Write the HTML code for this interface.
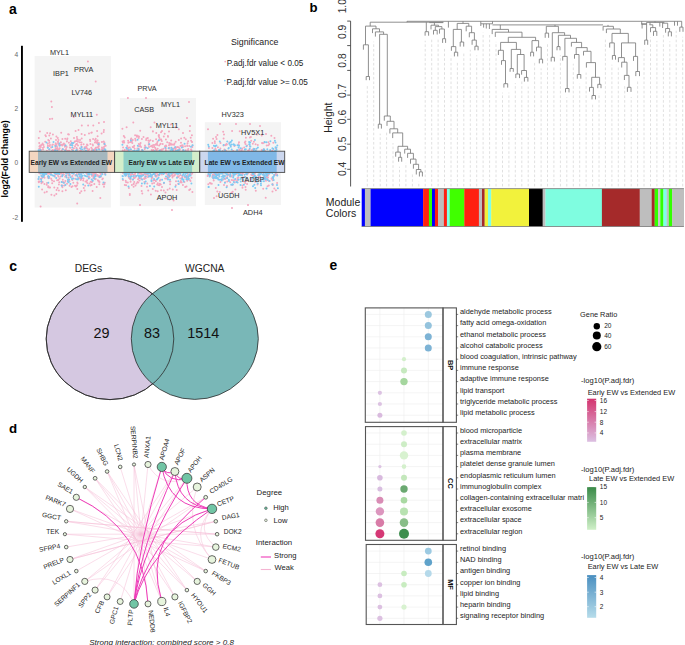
<!DOCTYPE html><html><head><meta charset="utf-8"><style>html,body{margin:0;padding:0;background:#fff;width:685px;height:645px;overflow:hidden;font-family:"Liberation Sans",sans-serif}svg{display:block}</style></head><body>
<svg width="685" height="645" viewBox="0 0 685 645">
<rect width="685" height="645" fill="#fff"/>
<g font-family="Liberation Sans, sans-serif" font-weight="bold" fill="#000">
<text x="9" y="14" font-size="14">a</text>
<text x="309.5" y="11.6" font-size="13.2">b</text>
<text x="9.3" y="270.5" font-size="14">c</text>
<text x="9.0" y="432.7" font-size="13.3">d</text>
<text x="329.6" y="270.2" font-size="13.8">e</text>
</g>
<g id="pa">
<rect x="34.6" y="56" width="76.3" height="151.5" fill="#f4f4f4"/>
<rect x="119.9" y="98" width="76.1" height="108.2" fill="#f4f4f4"/>
<rect x="204.8" y="122.2" width="76.2" height="82.8" fill="#f4f4f4"/>
<path d="M95.9 149.5h0M60.7 176.5h0M49.4 142.8h0M88.1 125.6h0M103.9 129.9h0M92.6 191h0M68.1 150.8h0M52.5 150.1h0M40.8 149.8h0M72.5 186.2h0M70 145.1h0M88.9 176.4h0M67.7 169.4h0M54 181.2h0M98.3 176.2h0M84.7 190.5h0M69.4 150.7h0M67 173.1h0M87 169.4h0M69.5 181.3h0M66.3 175.9h0M83 172.4h0M64.9 151.1h0M75.4 153.7h0M91.7 174.6h0M77.6 170h0M87.3 183h0M74 137.9h0M103 149.7h0M90.4 143.9h0M105.4 145.7h0M65.7 151.1h0M67 150.9h0M56.5 144.2h0M88.9 177.2h0M93 152.9h0M52.9 150.8h0M81.6 133.9h0M76.7 143.9h0M81.9 171.7h0M94 150.3h0M47 183.1h0M62.6 170.6h0M55.7 143.3h0M51.1 152.6h0M55.2 145.2h0M71.1 143.4h0M63.1 182h0M96.6 142.7h0M91.8 132.5h0M95 171.1h0M103.2 169.5h0M55.5 149.1h0M91.3 147.8h0M48.9 171.1h0M99.1 176h0M91.6 185.1h0M95.5 141.9h0M85.6 170h0M98.5 181.5h0M56.5 145.8h0M42.5 144.1h0M48.3 140.1h0M97.2 154.1h0M95.7 138.7h0M95.7 147.8h0M67 183.7h0M81.8 146.9h0M80 178.6h0M105.3 173.6h0M71.5 187h0M81 150.4h0M97.1 140.6h0M90.9 152h0M68.1 134.2h0M58.4 176.4h0M66 171.2h0M104.8 182.7h0M92.4 150.3h0M78.4 178.1h0M91.8 150.2h0M75.6 131h0M58.9 144.8h0M79.9 193.1h0M92.2 181.4h0M81.1 179.5h0M79 173.3h0M69.6 185.7h0M45.4 135.2h0M100.7 173.9h0M63.6 172.7h0M56 140h0M67.2 139.5h0M102 147.4h0M77.1 139.1h0M77.6 183.4h0M68.9 142.7h0M102.3 179.2h0M70.8 141.2h0M52.9 144.5h0M39.6 151.9h0M104.2 149h0M97.6 136.3h0M55 171.4h0M51.2 151.5h0M96.7 187.1h0M44.2 172.6h0M101.9 142.1h0M104.1 171.3h0M82.7 169.5h0M43.9 153.4h0M97 147.5h0M42.6 143.4h0M84.5 148.7h0M92.7 144.4h0M66.9 141.6h0M92 172.5h0M58.4 139.9h0M104.7 174.1h0M79.7 178.4h0M95 173.7h0M98.9 143h0M85.1 185.7h0M57.8 141.7h0M56.4 136.4h0M98.8 143.4h0M95.2 179.3h0M57.1 180.3h0M93.4 178.3h0M44.3 174.8h0M92.7 154.2h0M54.4 195.6h0M84.6 151.9h0M89.6 177.7h0M69.8 147.5h0M54.3 187.6h0M99.5 182.1h0M78.6 152.5h0M51.6 151h0M76.9 144h0M73.7 116.9h0M63.9 143.5h0M81.5 177.9h0M62 182.1h0M39.9 131.5h0M71.6 170.7h0M56.3 193.9h0M90.7 181.7h0M104 146.9h0M50.8 152.4h0M42 178h0M102.9 178.5h0M42.9 173.9h0M103.7 150.8h0M76.9 185.6h0M65.2 149.7h0M49.4 177.4h0M41.1 153.8h0M62.4 187.2h0M41.7 181.6h0M86.8 173.2h0M48.3 169.7h0M102.4 173.9h0M90 139.8h0M60.5 145h0M50 145.1h0M48.2 187.3h0M51.8 152.8h0M101.6 133.4h0M98.9 145.1h0M68.9 134.6h0M81.2 144.8h0M61.6 185.2h0M48.2 152h0M42.4 175.3h0M97.7 152.2h0M66.5 151.4h0M61.2 132.7h0M71.9 149.7h0M105 151h0M99.4 172.5h0M58 141.7h0M52.2 118.7h0M45.1 152h0M99.4 152.8h0M105 144.9h0M93.4 153.8h0M95.1 169.9h0M51.1 147.5h0M77.4 150.1h0M50.7 171.2h0M43.9 147h0M79.9 153.1h0M80.1 177h0M93.7 170.6h0M88.3 150.2h0M87.6 150.4h0M95.7 178.9h0M72 143.3h0M97.8 147.3h0M51.2 173.9h0M63.7 174.4h0M38.8 182.2h0M46.7 173.9h0M94 177.1h0M64.4 185.5h0M42.7 182.1h0M73.4 173.1h0M75 146.3h0M50.9 152.6h0M55.5 174.4h0M86 153.3h0M39.7 181.6h0M86.3 147.9h0M97.6 174.9h0M72.1 171h0M57.5 149.1h0M78.7 172.8h0M48.5 169.5h0M94.7 176.2h0M64.9 146.8h0M65.4 181.1h0M91.3 153.6h0M68.1 179.6h0M93.2 178.1h0M42.1 189.5h0M103.6 169.4h0M81.5 142.4h0M74.6 142h0M39.9 148.7h0M104.4 184.2h0M93.5 175.6h0M98.7 148.6h0M84.6 147.3h0M75.4 175.6h0M73.9 148.3h0M103.2 148.7h0M46.7 184.8h0M103.5 170.8h0M74.8 141.6h0M46.9 151.1h0M58.1 143.1h0M44.5 177.7h0M77.3 182.5h0M52.2 183.2h0M80.2 150.8h0M59.6 151.8h0M64.6 182.7h0M39.3 148.8h0M76.4 147.9h0M57.9 174.9h0M49.3 135.5h0M97.7 143.8h0M68.4 173.6h0M45.9 136.3h0M49 149.5h0M62.5 185.8h0M94.3 184.1h0M88.7 170.1h0M91.9 182.2h0M100.7 153.5h0M90.6 170.1h0M72.4 180h0M91.8 174.5h0M79.8 142.3h0M87.7 150.5h0M65.1 176.8h0M92 176h0M72.5 150.4h0M48.4 178.2h0M78 145.4h0M95.9 174.2h0M103.7 131.9h0M39.2 143.1h0M76.9 137.1h0M75.1 178.7h0M73.7 173.8h0M62.8 179.7h0M62.4 175.5h0M45.2 141.8h0M65.8 190.2h0M104.1 143.8h0M68.4 179.8h0M74.5 169.6h0M50.1 133.2h0M73.4 151.4h0M99.3 184.2h0M98.9 123.1h0M49.1 140.8h0M51.3 153.3h0M81.3 191.2h0M81.8 125.4h0M66.5 175.4h0M38.8 138h0M95.8 173.1h0M72.4 175.9h0M56.6 190.1h0M66.5 146.6h0M49.2 173.4h0M50.1 172.6h0M94.5 170.8h0M39.3 173.2h0M60.5 173.6h0M56.6 148.7h0M100 176.6h0M64.7 144.2h0M99.1 181.2h0M80.7 151.2h0M41.5 175.4h0M99.6 177.2h0M59.2 182.2h0M103.1 150.9h0M65 171.1h0M98 144.6h0M92.4 149.3h0M51.2 178.8h0M58.3 179.9h0M64.7 145h0M43 149.4h0M55.2 144.9h0M57.8 137.9h0M61.7 150.6h0M86.5 151.6h0M47.2 132.9h0M95.4 175.1h0M87.6 145.3h0M103.7 141.4h0M54 150.2h0M47.4 171h0M78.5 130h0M55.2 174.7h0M46.8 191.7h0M75.4 152.7h0M83.2 180.4h0M59.6 148.2h0M96.4 150.6h0M83.6 144.3h0M72.5 150.2h0M43 153.4h0M87.2 148.4h0M65.9 173h0M97.1 131h0M57.3 147.1h0M62.4 139.1h0M83.3 169.6h0M62.4 191.3h0M50.9 138.5h0M87 144.6h0M41.2 151.2h0M64.4 145.1h0M59.6 178.6h0M77.3 189h0M55.8 150h0M38.6 179h0M91.3 132.8h0M79.8 148.3h0M55.1 152.2h0M100.7 176.9h0M44.4 184.1h0M94.9 142.6h0M44.6 192.6h0M85.5 181.4h0M94.9 173h0M86 153.1h0M73.3 182.7h0M41.5 183.2h0M93.3 125.6h0M81.9 178h0M55.5 146.9h0M52.2 145.1h0M47.8 173.4h0M54.9 176.7h0M68.8 175.1h0M98.7 146.6h0M76.8 148.5h0M90.2 141.1h0M83.8 188.1h0M95 149.6h0M58.2 153.2h0M57.6 150.4h0M86.2 146.6h0M70.4 147.7h0M49.9 119h0M89.5 151.8h0M87.3 174.4h0M71.7 152.1h0M51.4 194.8h0M82.3 170.7h0M102.1 169.4h0M47.9 145.7h0M91.2 171.4h0M81.9 176.3h0M101.5 149.6h0M89 133.4h0M51 174h0M76 144.4h0M95 140.1h0M81.2 173.1h0M86.5 181.8h0M72.5 149.7h0M58.9 184.5h0M49.6 145.9h0M104.4 142.4h0M51.5 172.4h0M38.7 181.6h0M67.4 138.5h0M83.5 178.4h0M68.3 174.3h0M94.7 174.2h0M68.6 177.5h0M62.2 145.6h0M69.8 174.5h0M100.3 198h0M80.7 174h0M42.6 176.7h0M77.3 175.4h0M71.2 172.5h0M98.7 144.3h0M51.3 173.9h0M83.4 152.7h0M78 139.9h0M65.5 151.5h0M50.8 174.6h0M97.1 152.6h0M45 169.5h0M76.2 141.1h0M77.4 139.2h0M44 153h0M43.5 144.9h0M87.1 180.2h0M46.3 170.3h0M95 149.1h0M50.1 187.4h0M47.8 176.9h0M42.4 152.9h0M78.9 152.8h0M58.9 190.6h0M80.7 180h0M76.8 174.1h0M89.2 149.2h0M90.4 172h0M63.9 174.5h0M103 184.2h0M45.3 173.5h0M93.1 139.1h0M55.8 146.6h0M68.9 174.2h0M39.9 151.5h0M92.9 145.4h0M85.2 151.1h0M48.3 186.2h0M93.5 173.5h0M39.4 146.4h0M97.9 180.2h0M40.9 147.1h0M65.2 138.7h0M49.3 187.4h0M80 139.9h0M60.9 142.3h0M41.5 144.9h0M63 144.3h0M62.6 149h0M77.9 141.8h0M105.6 152.6h0M48.4 170.6h0M72.5 145.3h0M77.2 203.4h0M40.8 178.8h0M90.9 171.8h0M81.7 138.4h0M57.6 188h0M84.8 135h0M90.4 185.4h0M62.3 170.3h0M66.1 149h0M105.7 145.7h0M63.5 153.2h0M47.7 143.8h0M97.7 140.4h0M59.1 149.3h0M43 147.7h0M76 186.4h0M61.7 173.4h0M50.7 171.7h0M105.6 152.4h0M97.5 142.4h0M71.4 170.8h0M40.1 145.6h0M56.7 171.6h0M52.1 180.6h0M97.3 175.4h0M104 186.8h0M43.9 176.7h0M47.8 146.9h0M75 185.7h0M52.9 134.5h0M89.5 183.5h0M61.5 144.7h0M66.7 147.1h0M72.1 176.7h0M153.3 144.9h0M155.4 173.6h0M161.4 151.2h0M162 186.9h0M190.2 189.3h0M159.3 137.7h0M134.3 170.4h0M141 173.7h0M154.8 179.9h0M144.7 148.9h0M169 131.5h0M156.3 133h0M123.1 171.8h0M155.5 169.6h0M160.2 139.5h0M168.2 154.1h0M179 170.6h0M148.2 190.6h0M135.1 135.3h0M128.1 140.8h0M124.8 149.8h0M175.1 174.8h0M188.5 153.5h0M189.2 152.7h0M155.9 181.3h0M192.2 173.4h0M137.6 182h0M154.5 122.6h0M145 145.4h0M123.9 140.9h0M133.7 184.1h0M140.5 154.2h0M161.9 174.6h0M130.8 175.5h0M132.8 140.1h0M184.8 152.3h0M138.8 144.1h0M151.1 175.4h0M169 177.6h0M188.7 152h0M125.9 171h0M142.7 153h0M190.5 181h0M182.1 175.7h0M168.4 175.4h0M168.7 174.8h0M178.8 176.2h0M127.7 171h0M162.5 151.3h0M139 146.5h0M159.2 185.3h0M166.3 146.3h0M169.7 181.6h0M170.1 170.1h0M167.9 135.9h0M138.7 149.4h0M189.8 131h0M185.8 139.3h0M174.1 144.7h0M131.3 138.5h0M137.5 148.5h0M150.9 152.9h0M127.8 182.6h0M147.4 174.4h0M153.1 152.2h0M170 154h0M148.4 171.5h0M167.6 189.8h0M172 175.5h0M143.5 136.9h0M180.2 182.3h0M163.8 136.4h0M123.4 170.7h0M127.2 145.7h0M134.5 177.2h0M141 169.6h0M191.9 135.2h0M190.7 137.7h0M145.9 174.2h0M156.1 144.1h0M126.2 151.8h0M166.3 173.4h0M140.8 170.7h0M157 144.5h0M187.8 175.3h0M171.1 152.3h0M172.8 148.6h0M128.9 187.9h0M135.8 175.7h0M138.6 136.2h0M169.1 173.9h0M163.4 148.8h0M167 153.6h0M159.9 180.7h0M124.5 171h0M167.4 178.2h0M165.6 172h0M169 145.3h0M133.4 151.5h0M172.8 189.4h0M178.3 147.3h0M126.2 185.2h0M128.6 148.1h0M188 169.9h0M154.9 144.9h0M159.1 145.5h0M172.8 170.2h0M127.2 149.2h0M156.4 150.5h0M144.7 147.6h0M172.5 177.5h0M187.7 177.8h0M165.9 139.5h0M141.9 150h0M191.5 177.7h0M166 145.5h0M127.1 170.9h0M128.3 142.8h0M128.9 177.8h0M176.4 151.4h0M129.8 147.4h0M181 142.8h0M134.5 178.1h0M131 149.8h0M190.8 153.2h0M185.2 187.1h0M155.6 176.4h0M155.1 174.8h0M174 144.8h0M129.8 194.9h0M146.2 153.8h0M192.1 142.1h0M182.5 145.9h0M146.4 138.5h0M151.8 178.6h0M123 180.1h0M165.1 178.5h0M182.1 172.2h0M141.1 147.1h0M149 147.1h0M138.3 182.4h0M184.9 177.5h0M139.5 180.4h0M173.6 200.5h0M179.6 148.3h0M181.5 145.5h0M160.3 150h0M181.8 178.3h0M184.3 137.7h0M170 176.1h0M125.7 180.7h0M146.2 172.9h0M177.4 171.6h0M139.9 144.6h0M145.4 152h0M127.3 146.8h0M174.5 143.6h0M178.9 171.9h0M144.1 179h0M185.7 176.8h0M144.3 173.9h0M163.7 171.6h0M158.9 135h0M169.2 143.1h0M147.8 138.1h0M131.1 173.6h0M124.8 185h0M152.6 147.2h0M159.2 171.8h0M138 179.2h0M178.8 129.2h0M152.9 131.6h0M172.3 172.1h0M145.5 178.1h0M135.5 185.4h0M132.4 169.4h0M192.8 171.3h0M186.5 176h0M175.8 185.2h0M136.9 135.5h0M157.7 191.2h0M158.3 185.1h0M161.8 141h0M152.2 183.6h0M140.6 142.9h0M155.3 148h0M122.7 150.5h0M139 136.7h0M158.7 135.6h0M136.5 183.5h0M173.1 173.4h0M141.5 185.9h0M187.5 143.3h0M128.4 150.2h0M178.5 176.9h0M167.3 178.7h0M146 169.6h0M133.7 147.1h0M165.9 150.3h0M128.3 147.8h0M144.6 174.4h0M153.3 180.6h0M156.6 176.4h0M164 153h0M134.2 145.7h0M150.7 127.3h0M152.3 150.3h0M133 179.4h0M162.7 144h0M147.3 183.5h0M187.2 146h0M161.4 173.1h0M174.1 175.7h0M182.3 177.5h0M163.9 183.3h0M161 132.3h0M135.2 138.7h0M124.2 142.6h0M156.1 139.2h0M147 186.7h0M187.8 179h0M149.6 170.8h0M177.7 146.9h0M147.9 177.1h0M160.3 144.3h0M133.6 186.8h0M123.8 136h0M132.7 147.1h0M126.4 152.4h0M186.5 186.5h0M161.1 190.2h0M152.9 141.1h0M175 173h0M183.8 172.5h0M164.4 172.9h0M131.1 153.4h0M172.2 174.2h0M135.1 173.5h0M169.7 188.6h0M152.9 131.2h0M140.2 130.8h0M134.6 148.7h0M133 153.9h0M159.7 173.1h0M124.7 150.6h0M154.1 183h0M164.7 133.7h0M182.9 185.1h0M161.8 149.4h0M171 144.8h0M178.8 170.5h0M178.6 154.1h0M169.5 170.9h0M190 180.3h0M187.8 173.6h0M141.3 179h0M178.2 183.7h0M170.8 124.4h0M175.7 149.4h0M182.8 150.2h0M141.7 191h0M175.7 141.8h0M176 181.3h0M152.4 177.3h0M128.5 176.3h0M130.3 174.6h0M153.4 170.1h0M168 136.8h0M157.1 172.8h0M141.9 138.9h0M187.2 180.8h0M162.6 169.5h0M175.8 147.1h0M189.3 146h0M130.7 179.4h0M126.1 182.2h0M160.4 179.8h0M148.8 143h0M179.8 149.7h0M182.3 170h0M124.7 137.4h0M173.7 150.9h0M188.1 141.3h0M130.8 139.2h0M157.6 141.4h0M155.7 190.7h0M139.9 173.6h0M165.5 192.5h0M176.7 190.1h0M153.6 149.9h0M186.7 176.8h0M138.7 138h0M180.3 175h0M170.5 172.3h0M150.9 146.3h0M157.1 145h0M148.2 170.4h0M133.7 183.7h0M148.2 175.3h0M163.4 170h0M149.4 170.4h0M136.7 151.8h0M142.3 193.6h0M170.6 144.1h0M189.2 190.1h0M169.5 148.5h0M164.9 146.3h0M190.9 152.7h0M123 172.9h0M130.6 181.7h0M169.5 199.5h0M170.1 184.3h0M122.4 128.7h0M144.4 182h0M122.9 142.4h0M180.4 146h0M136.6 151.8h0M188 149.9h0M184.4 181.9h0M150.9 194.5h0M127 174.6h0M174.9 153.6h0M132.7 140.2h0M192.4 192.1h0M166.2 178.6h0M161.2 139.5h0M185.8 150.3h0M132.8 174.3h0M178.8 140.1h0M161.8 154h0M160.6 143.7h0M139 173.4h0M139.4 169.6h0M156 149.5h0M146 172.1h0M181.1 138.4h0M157.8 174.8h0M127.2 150.1h0M145.7 147.5h0M144.1 178.5h0M188.3 149h0M145.2 177h0M172.1 152.6h0M130.9 172.2h0M168 151.6h0M158 151.6h0M129.5 172h0M134.2 182h0M152.8 188.9h0M122.6 141.6h0M150.4 140.2h0M192.4 145.6h0M141.1 171.2h0M170.8 143.5h0M133.3 122.4h0M187.2 145.4h0M157.7 148.7h0M157.2 184.5h0M142.9 174.2h0M132.3 143h0M131.3 174h0M191.1 140.8h0M172.7 176.6h0M126.1 175.6h0M173.3 150.8h0M172.5 144.5h0M191.3 149.5h0M173.5 169.5h0M167.2 142.3h0M130.4 141.9h0M169.6 144.5h0M184 172h0M144.7 174.2h0M163.8 190.4h0M167.7 175.9h0M158.9 151.4h0M146.1 139.9h0M138 153.3h0M157.8 183.3h0M135.4 177.2h0M141.7 174.8h0M158.8 136.2h0M187.6 175.7h0M150.6 175.7h0M180 153.4h0M154.2 146.8h0M143.9 153.7h0M136.9 136.7h0M177.6 176.2h0M171.2 140.5h0M126.6 127.2h0M159.3 174.9h0M190.4 170.6h0M130 179.1h0M174.3 148.4h0M156.6 175.6h0M185.4 177.2h0M152 145.7h0M191 149.4h0M187.3 176.7h0M145.7 178.2h0M135.9 176.6h0M148.7 144.7h0M150.3 176h0M140.3 146.1h0M123.1 147.5h0M176 147.8h0M135.6 140.6h0M169.8 171.3h0M182.6 176.3h0M138.8 177.9h0M124.9 149.9h0M167.7 174.9h0M137.3 153.9h0M151.7 149.9h0M191.8 151.2h0M182.7 145.3h0M125 174.8h0M179.4 152.2h0M191.9 142.1h0M149.1 141h0M181.7 182.6h0M149.6 176h0M175.4 149.1h0M192.3 147h0M122.5 152.5h0M128.7 142.5h0M142.7 174.6h0M158.7 175.6h0M157.1 143h0M183 146.9h0M146 176.4h0M162 131h0M148.3 140.6h0M168.6 173.9h0M181.9 145.7h0M151.7 176.4h0M133.7 177.8h0M169.2 147.7h0M178 149.9h0M180.9 154h0M137.8 172h0M170.4 181.6h0M136.2 154h0M167.8 170.2h0M131.9 184.9h0M134.4 174.7h0M131.7 141.7h0M165.8 148.4h0M160.8 184.5h0M177.3 171.4h0M180.8 180.9h0M175.4 127.2h0M180.3 178.4h0M129.8 194h0M190.8 174.6h0M141.2 178.3h0M159 136.1h0M185.1 146.3h0M159.9 183.8h0M256.9 134.4h0M254.9 173.8h0M229.5 142.5h0M208.9 147.9h0M232.1 131.1h0M264.9 151h0M236.9 151.3h0M263.2 188.8h0M216 136.9h0M266 180.8h0M224 176.3h0M207.6 175.9h0M236.8 173.9h0M277.1 182.9h0M272.9 185h0M223.5 145.4h0M231.6 180.1h0M216.5 173.6h0M242.5 187.7h0M231.2 171.7h0M260 176.4h0M267.3 175.4h0M247.9 173.3h0M214.3 152.5h0M216.2 150.6h0M250.9 137.1h0M258.4 175h0M247.3 174.6h0M226.5 144.1h0M273.3 142.8h0M226.1 177.9h0M245.6 172.7h0M271.6 178.7h0M262.9 143.3h0M207.5 170.8h0M215.4 148.8h0M253.9 141.7h0M207.9 152.7h0M234.4 145.9h0M224.7 154.1h0M236.7 153.3h0M266.5 171.3h0M242.2 151.8h0M239.7 131.2h0M265.3 178.5h0M247.1 145.4h0M230 176.4h0M251.2 140.8h0M212.4 142.9h0M271.3 135.8h0M261.7 150.1h0M268.1 175.3h0M266.2 177.1h0M248 172.6h0M224 184.9h0M220.5 142.9h0M227.1 177.9h0M267.7 179.4h0M222.3 173.3h0M217.9 147.2h0M232.2 171.9h0M222.9 173.2h0M244.8 142.6h0M249.9 146.5h0M262 143h0M231.5 176.4h0M235.4 189.4h0M277.1 174.5h0M245.5 187h0M275.9 190.2h0M222.8 176.6h0M262.6 151.3h0M257.5 184.5h0M258.6 176.9h0M277.9 170.8h0M242.4 185.4h0M239 142.2h0M245 152.3h0M214.9 175.3h0M238.8 151.4h0M242.8 173.8h0M208.8 173.1h0M275.9 148.6h0M259.8 177h0M263.6 149.3h0M233.5 174.8h0M234.7 182.5h0M275.4 174.6h0M249.4 170.8h0M275 171.9h0M248.5 153.9h0M252.8 143.8h0M272.2 150.6h0M223.2 131.7h0M241.8 174.9h0M263.6 149.3h0M236.7 173.8h0M215.8 188h0M232.7 191.8h0M241.2 150.2h0M218.1 175.5h0M269.2 171.4h0M268.4 142.2h0M215.1 152.7h0M272.5 184.1h0M268.2 170.2h0M249.4 149.8h0M224.4 149.6h0M243.6 181.2h0M217.4 172.4h0M245.4 141.4h0M272.5 191.5h0M212.4 177.3h0M259.9 171.9h0M217.3 191.5h0M239.3 149.6h0M239.7 170.9h0M227.2 176.1h0M208.3 184.2h0M237.4 179.5h0M223.2 169.8h0M213.6 150.9h0M234.9 179.9h0M209.9 182.9h0M245.5 143.9h0M230.6 175h0M256.2 151.5h0M226.1 171.6h0M275.8 173h0M263.3 173.5h0M240.8 173.8h0M222.7 151.1h0M250.5 170.3h0M208.2 170.6h0M226 150.7h0M263.4 173.3h0M247.1 184.1h0M250.8 169.9h0M244 151.5h0M213.1 138.8h0M225.2 179.1h0M275.4 172.3h0M224.3 175.7h0M238.1 177.5h0M277.1 175.3h0M230.2 182.3h0M257.8 144.9h0M249.7 169.8h0M240.4 171.4h0M243.5 177.4h0M223.2 179.5h0M225.4 169.4h0M271.1 169.4h0M252 150.1h0M267.9 175.4h0M255.6 144.3h0M233.2 175.4h0M214.8 141.2h0M225.6 145.3h0M272.7 180.2h0M272.2 178.1h0M240.2 170.3h0M241.9 149.9h0M251.5 175.1h0M241 169.7h0M209.7 174h0M249.6 172.3h0M239.3 169.4h0M249.9 137.6h0M245.9 137.7h0M257.3 179.7h0M264.4 142.6h0M240.2 172.6h0M268.5 174.4h0M208 129.2h0M251.1 178.8h0M214.9 173.4h0M218 178.2h0M210.8 183.6h0M261.7 135.6h0M268.8 180.9h0M213.2 174.3h0M219.7 191.9h0M242.2 148.6h0M254.2 177.8h0M237.1 171.5h0M223.6 138.5h0M212.2 152.7h0M276 153h0M213.5 178.5h0M268.8 185.4h0M251.3 174.4h0M254.4 176.2h0M216.6 139h0M267.5 186.3h0M242.2 170.5h0M246.4 152.4h0M277.7 171.8h0M253.6 148.8h0M264.2 176.3h0M250.1 171.6h0M245.7 189.7h0M266.7 145.6h0M212.9 174.8h0M255.8 190.7h0M212.4 148h0M255.9 177.7h0M223.2 169.5h0M231.5 192.7h0M227 185.9h0M214.9 142.9h0M275 175.1h0M233.1 151h0M267.1 170.8h0M212.4 175.9h0M237.5 177.9h0M244.6 177h0M208.1 175.2h0M253.2 173.2h0M270.9 152.3h0M240.8 174.6h0M211.8 183.8h0M259.6 152.5h0M265.7 197.7h0M274.3 188.6h0M264.3 175.3h0M254.7 149.2h0M268 177.5h0M228 173h0M230.6 152.8h0M274.5 138h0M245.1 183.1h0M238.5 177.8h0M244.5 171.7h0M217.4 134.9h0M238 153.4h0M273.4 151.8h0M253.3 152.1h0M225.9 169.8h0M237 180.9h0M244.2 147.5h0M216.8 171.4h0M232.3 185.1h0M233.2 173.3h0M228.7 174.8h0M227.3 181.5h0M236.5 172.4h0M246.8 180.9h0M253.5 173.9h0M217.8 151.5h0M220.4 182.1h0M224 134.4h0M220.4 148.4h0M225.2 182.3h0M255.1 181.7h0M238.6 144.3h0M233.2 180.2h0M213.7 180.4h0M268.4 145.3h0M225.3 144.9h0M216.6 196.3h0M275.4 170.9h0M274.1 175h0M276.3 170.2h0M250.9 179.8h0M217.8 173.8h0M226.9 144.5h0M269.3 144h0M248.2 150.6h0M253.2 175.8h0M87.9 61.6h0M95.7 81.6h0M51.3 101.4h0M51.9 106.9h0M96.8 114.7h0M104 122h0M127.9 98h0M146 98h0M189 102h0M187 118h0M190 126h0M183 133h0M40.6 206.5h0M140 205h0M220 124h0M236 124h0M250 124h0M260 126h0M266 134h0M232 208h0M248 205h0M214 198h0M172 210h0" stroke="#f4a7bf" stroke-width="2.0" stroke-linecap="round" fill="none"/>
<path d="M60.5 157.6h0M43.4 155h0M74.9 166.4h0M73 162.4h0M41 167.3h0M44.7 163.3h0M67.4 162.6h0M53.7 168.2h0M81.2 154.4h0M65.5 167.9h0M104.9 149.2h0M58.2 159.9h0M48.3 159.4h0M94 159.8h0M50.8 174.6h0M63.8 170.2h0M75.7 161.9h0M52.5 163.4h0M84.8 170.8h0M78.3 161.4h0M69.3 168.9h0M86 150.8h0M55.1 173.3h0M98 169h0M88.1 169.9h0M46.5 142.5h0M66.9 164.3h0M71.7 169.1h0M41.2 171.3h0M77.5 176.5h0M98 169.4h0M78.9 153h0M77.9 179.4h0M102.7 160.3h0M70.7 166h0M86.2 167h0M82.5 149.5h0M57.9 165.2h0M64.7 165.3h0M69.9 166h0M49.9 162.4h0M90.7 162.6h0M47.3 164.4h0M97.8 156.4h0M44 174.2h0M98.6 161.3h0M94.2 160.2h0M66.7 169.4h0M62.9 149.3h0M48.8 178.1h0M50.5 163.8h0M71.5 158.6h0M78.6 164.6h0M67 163.8h0M63.6 182.8h0M85.5 172.6h0M73.6 173.5h0M42.2 172.7h0M99.7 161.4h0M92.8 180.7h0M65.2 167.5h0M81.6 162.3h0M42.7 159.4h0M49.5 162.2h0M61.6 164.3h0M48.8 164.4h0M45.4 165.7h0M98 163.1h0M80.3 160.8h0M62.1 159.5h0M63.3 153.2h0M106 153.5h0M70.2 167.9h0M45.4 164.2h0M61.8 165.9h0M49.5 149.3h0M40.1 155h0M48.5 167.5h0M75.4 154.7h0M105 162.8h0M97.2 166.6h0M63.4 170.4h0M49.9 163.1h0M91.5 174.4h0M60.9 162h0M105.5 149.9h0M96.5 159.3h0M88.8 178.5h0M53.9 172h0M40.5 165.3h0M40.4 165.7h0M85.6 158.3h0M103.5 182.5h0M105.7 158.3h0M103.4 168.3h0M53.9 160.2h0M51.9 161.3h0M99.7 153.6h0M95.6 176.2h0M92.9 163h0M44.3 174h0M91.7 179.5h0M89.5 169.5h0M92.2 163.8h0M61.1 157.7h0M65.4 185h0M65.8 152.2h0M50.1 168.8h0M47.1 154.3h0M93.3 150.2h0M48.4 154h0M83.2 184.6h0M62.3 168.6h0M39.5 165.8h0M104.5 170.3h0M102 172.5h0M68 154h0M52.9 175.4h0M55.6 166.1h0M78.4 158.7h0M56.1 168.2h0M100.4 162.4h0M62.6 174.9h0M100 161.7h0M67.1 156.2h0M74.7 169.2h0M74.1 155.8h0M51 163.5h0M38.8 163h0M70.7 169.2h0M87.8 171.2h0M73.7 167h0M76.3 163.7h0M76.6 168.2h0M55.4 166.8h0M73 150.8h0M76.7 163.4h0M68.6 182.3h0M80.2 174.2h0M85.6 164.8h0M69.3 173.5h0M102.5 166.4h0M86 150.7h0M56.2 178h0M76.5 150h0M47.8 169.9h0M46.8 167.4h0M54.9 163.4h0M43.5 171.4h0M99.5 176.9h0M49 167h0M48.2 176.1h0M98.5 158.9h0M103.3 165.7h0M65.6 145.6h0M49.5 162.5h0M67.8 171.8h0M51.8 165.2h0M60.2 164.8h0M76.2 166.1h0M68.5 157.3h0M80.9 163.7h0M73.3 142.9h0M92.1 155.3h0M104.6 159.5h0M41.2 160.6h0M91.5 165h0M67.2 160.3h0M100.5 161.9h0M48.7 170.2h0M101 175.9h0M44.6 169.9h0M42.4 167.7h0M43.4 172.4h0M102.3 174.2h0M44.2 175.4h0M96.7 149.8h0M69.4 157.9h0M61.6 182h0M56.7 170.6h0M47.3 170.4h0M45.9 165.5h0M49.5 159.3h0M59.7 162.8h0M59.2 164.1h0M72.5 171.2h0M50.6 165.4h0M55.5 163.2h0M39.5 165.6h0M51.4 174.7h0M70.8 161h0M94.2 166h0M67.9 179.9h0M65.2 164h0M73 173.3h0M61.8 185.8h0M95.1 167.6h0M66 175.6h0M62.1 160.5h0M43.3 163.1h0M88.9 164.7h0M44.2 159.7h0M95.7 156.2h0M57.7 173.3h0M55 166.9h0M49.2 155.8h0M68.8 166.2h0M104.6 143.9h0M75.7 163.8h0M59.5 143.5h0M62.7 156.6h0M70.8 164.4h0M72.7 161.6h0M38.8 155.3h0M56.5 157.6h0M41.3 160.1h0M40 166.5h0M78.3 158.9h0M74.5 164.5h0M87.2 176.4h0M98.3 170h0M105.5 159.9h0M48.7 166.4h0M41.5 176h0M95.3 155.6h0M88.4 171.6h0M93.7 158.2h0M72.8 156.9h0M95.3 159.4h0M78.2 178.8h0M99.2 169.6h0M54.1 175.9h0M40.6 159.4h0M45.6 158.8h0M95.3 175.1h0M81.1 168.6h0M84.8 165.2h0M92.7 164.5h0M89.4 174.5h0M83.3 164.7h0M43 165h0M43.6 170.7h0M56.6 165.2h0M88.8 169.9h0M104.8 172.4h0M71.1 164.2h0M85 163.3h0M82.2 175.7h0M43.8 160.8h0M89 159.5h0M59.2 165.7h0M42.6 165h0M56.8 170.4h0M84.4 175.5h0M58.3 173.5h0M70.2 165.4h0M46.6 160.3h0M105 167.8h0M102.2 155.6h0M94.3 163.5h0M104.3 170.6h0M52.8 162.5h0M102.8 161.9h0M48.1 154.1h0M74.1 160.4h0M94.3 165.8h0M73.1 154.9h0M54.2 172.7h0M99.5 166.3h0M38.7 164.3h0M71.9 171h0M48.1 162.4h0M61.9 170.8h0M38.6 150.3h0M89.5 162.3h0M101.5 168h0M87 159h0M63.8 168.4h0M65.2 153.7h0M63 164.6h0M67.6 164.9h0M45.4 162h0M95.3 168.7h0M55.5 146h0M56.6 169.7h0M63.9 164.9h0M103.5 153.4h0M81.4 174.3h0M100.6 155h0M87.4 168.2h0M41.9 165.5h0M89.7 173.3h0M82.3 165.1h0M101.5 162h0M47.2 171.8h0M58.7 163.2h0M88.8 158.3h0M83.1 165.4h0M59 172.1h0M49.9 167.4h0M49.5 159.9h0M72.3 147.5h0M53.5 141.9h0M69.1 179.6h0M48 163.2h0M61.8 161.2h0M44.7 164.1h0M77.2 158.3h0M98.8 164.5h0M66.6 172.9h0M74.1 169.8h0M42.7 159.4h0M57.4 160.4h0M72.7 165.3h0M81.3 160.8h0M56.9 168.8h0M55.4 171.6h0M103.4 159.3h0M96.2 163.3h0M40.7 165.7h0M86.7 157.2h0M78.4 170.1h0M38.5 178.9h0M94.6 152.8h0M96.7 158.5h0M45.9 165.6h0M49 176.6h0M102.5 166.2h0M87.6 172.8h0M69.6 175.5h0M76 150.8h0M54.3 161h0M101.1 168.7h0M47.2 170h0M55.6 172.7h0M46.1 174h0M43.3 175.1h0M64.9 166.1h0M53.7 165.4h0M59 165.2h0M69.8 153.2h0M98.6 167.5h0M70.8 163.9h0M103.8 158.4h0M86.4 165.1h0M72.4 162.9h0M84.4 170h0M83.9 161.5h0M101.4 164.2h0M61.5 162.4h0M67.1 166.7h0M92.7 169.4h0M88.8 170h0M104.5 164.7h0M59.7 162h0M53.6 169.8h0M90.2 170.1h0M72.2 145.3h0M51.2 163.1h0M83.7 156.2h0M103 159.6h0M53 158.1h0M104.7 162.8h0M42.6 162.4h0M65.2 151h0M88.3 174.5h0M106.3 157.9h0M51.1 167.5h0M102.1 164.5h0M83.7 166.6h0M64.2 169.6h0M50 159.3h0M38.7 165.9h0M103.5 157.1h0M46.9 159.1h0M62.8 165.7h0M94.4 160.7h0M41.8 172.3h0M70.7 177.2h0M51.6 151.5h0M63.3 162.9h0M66.4 165.7h0M93.7 164.3h0M40.9 166.8h0M42.8 159h0M89.3 167.5h0M99.6 167.9h0M103.6 159h0M80.5 165.5h0M60 151.7h0M57.2 150.9h0M100.8 164.2h0M81.6 162.8h0M54.4 165.1h0M70.8 145.1h0M64.8 169.9h0M55.6 173h0M101.6 160.5h0M50.9 160.2h0M94.4 177h0M91.1 170.1h0M60.2 169h0M63.1 163.8h0M51.9 167.7h0M89.7 164.4h0M40.8 161.5h0M76.1 174.9h0M98.6 144.3h0M105.7 164.8h0M45.1 161.1h0M72.4 166.7h0M54.4 173h0M66.8 173.3h0M89.4 172.8h0M96.1 166.6h0M95.7 168h0M58.5 171.6h0M88.7 167.7h0M52 164.4h0M48.9 158.4h0M98.6 170.8h0M65.4 167.9h0M106 170.4h0M93.5 164.8h0M82.9 160.7h0M70.8 164.7h0M94.2 154.8h0M41.2 179.6h0M58.5 160.7h0M104.7 160.9h0M78.2 157.4h0M97.4 167.8h0M69 165.4h0M102.8 150.5h0M45.7 173.8h0M53.3 170.9h0M63.6 161h0M55.8 160.3h0M79.3 167.7h0M39.3 169h0M60.8 166.8h0M59.7 169.2h0M52.3 161.6h0M42.8 174.3h0M45.4 172.6h0M82 158.2h0M44.7 158.1h0M66.4 153.8h0M57.8 171.6h0M59.7 145.8h0M77 169.7h0M97.3 157.9h0M106.3 168h0M88 160.4h0M52.3 147.1h0M67.3 163.9h0M94.3 178.4h0M69.8 155.2h0M49.6 154.3h0M82.1 163.5h0M100.4 154.9h0M63.7 158.5h0M72.8 160.5h0M73.9 159.3h0M101.4 157.2h0M93.2 158.6h0M104.2 163.1h0M102.6 160.5h0M104.8 167.2h0M101.5 164.2h0M64.9 155.2h0M94.6 170.9h0M49.4 163.2h0M66 170.1h0M96.1 162h0M53.3 169h0M65.7 172.4h0M46.9 165.4h0M55.3 167.2h0M41.3 181.6h0M76.7 164.4h0M95.5 166.8h0M46.5 172.8h0M81.1 170.5h0M59.3 173.9h0M67.5 159.3h0M83.3 172.7h0M40.1 161.6h0M80.6 170.4h0M90.4 164.1h0M91.5 169.4h0M70.7 163.2h0M45.8 158.6h0M44.7 158.3h0M68.6 166.8h0M81.8 164.6h0M44.1 166h0M73.3 178.5h0M42.2 172.4h0M103.2 164.7h0M47.8 147.7h0M88.3 185.6h0M93.9 156.6h0M71.9 143h0M103.6 160.3h0M92.1 166.9h0M101.8 157.6h0M89.9 161.5h0M49.3 159.3h0M94 168.4h0M48.3 182.7h0M52.7 164.8h0M56.4 171.6h0M41 164.8h0M50.9 154.4h0M84.7 148.4h0M99.4 157.6h0M46.3 152.1h0M74.6 169.5h0M97.9 170.3h0M76.3 179.2h0M45.6 172.6h0M106 170.1h0M92.7 170.4h0M56.5 153.9h0M63 165.1h0M90.5 169.2h0M89.1 162.7h0M41.8 161.9h0M82 170.1h0M105.4 174.8h0M59.8 170.6h0M38.6 160h0M80.4 163.5h0M67.9 181.7h0M47.5 165.9h0M54 165.5h0M38.7 165.9h0M62.6 158.5h0M53.7 159.8h0M78.2 169.1h0M80.9 167.4h0M70.8 151.9h0M55.1 150.2h0M48.7 155h0M97.7 158h0M91.7 169.7h0M39.3 160.8h0M82.4 171.5h0M82.4 167.4h0M68.7 152.3h0M55.4 169.6h0M99.9 154.9h0M66.1 161.8h0M54.7 151.4h0M39.3 159.5h0M76 160.3h0M52.1 166.1h0M79.8 176.1h0M93.8 165h0M50.4 167h0M41.8 158.1h0M99 161.9h0M38.9 177.1h0M95.9 164.8h0M88.9 173.6h0M69.3 163.9h0M54.3 160.7h0M41.1 171.4h0M85.8 152.9h0M96 166h0M76.2 170.7h0M68.2 162.1h0M56.5 174.1h0M82.2 159h0M98.3 165.7h0M39.5 164.9h0M89.1 158.6h0M102.7 164.7h0M98.4 171.7h0M60.8 163.3h0M81.4 146.9h0M85.6 175.9h0M70.4 183.9h0M95.6 169.7h0M68.2 179.6h0M87.8 170.8h0M52.9 167.5h0M80.8 148.8h0M48.3 156.1h0M40.3 149.9h0M62 152.9h0M48.1 162.2h0M85.6 164.1h0M81.6 168.8h0M43 177h0M78.7 174.3h0M94.2 153.2h0M99.1 149.6h0M100.7 157.9h0M102.7 160.2h0M46.1 161.1h0M40.8 156h0M81.6 176.6h0M94.6 169h0M45.3 169.4h0M45.2 164.2h0M60.2 170h0M67.3 158.3h0M57.7 163.7h0M87.2 169.3h0M104.1 159.2h0M72.8 157.8h0M40.6 173.5h0M66.6 177.4h0M62.1 159.1h0M86.4 170h0M97.1 165.8h0M44.7 162.4h0M38.6 169h0M52.2 162.8h0M38.8 186.8h0M71.9 178.9h0M51 163.7h0M72.1 173.3h0M56.2 152h0M102.7 165.7h0M86.1 159h0M72.4 155.6h0M44 157.2h0M92.1 169.1h0M81.2 178h0M62.7 171.1h0M99 159.8h0M44.4 163.1h0M52.5 165.7h0M56.4 156.7h0M64.3 170.1h0M98.6 163.6h0M74.6 155.5h0M89.8 164.3h0M62.2 176.2h0M60.7 155.8h0M83.5 151.6h0M89 160.3h0M91.1 156.9h0M77.9 158.2h0M98.7 158.1h0M54.7 162h0M86.3 158.1h0M140.4 165.8h0M187.5 164.2h0M162.1 161.8h0M165.6 164.7h0M173.4 166.2h0M133.3 161.3h0M132.4 164.1h0M179.7 168h0M152.1 175h0M161.4 167.1h0M168.6 170.3h0M174.5 168.8h0M140.5 167.8h0M177 177.8h0M144.1 161.3h0M154.2 186.6h0M141.9 183.6h0M131.6 167.3h0M122.9 176.2h0M176.9 162.7h0M147.9 158.7h0M175.6 164.9h0M128.6 160.2h0M126.5 163.7h0M157.7 169.3h0M188.6 166.2h0M148.1 161.5h0M174.3 160.4h0M187.3 163.5h0M177.2 162.8h0M139.4 155h0M167.1 165.6h0M146.6 161.7h0M145.1 173h0M186 154.2h0M126.9 156.2h0M167.8 177.7h0M126.5 155.1h0M162.1 179.8h0M188.9 154.8h0M166.5 163.5h0M140.8 158.4h0M152.9 163.9h0M175.8 159.1h0M167.6 172.3h0M137.6 139.7h0M162.5 155.6h0M183.6 151h0M141.1 164.4h0M142.2 179.6h0M145.7 181.5h0M133.7 163h0M170.4 171.8h0M163.1 169.6h0M184.5 160.3h0M147.7 148.2h0M177.3 161.1h0M183.2 168.4h0M192.4 165h0M130.2 162.8h0M191 146.7h0M132.9 163.4h0M174.2 160.5h0M170.4 161.7h0M128.7 174.2h0M172.8 149.2h0M184.5 162.4h0M138.8 164.8h0M178.1 165.3h0M157.9 166.6h0M138.6 168h0M123.7 162.9h0M192.1 171.2h0M130.8 149.3h0M156.7 158.9h0M134.9 158h0M170.6 156.6h0M157.6 153.9h0M130.2 170.2h0M187.1 157h0M146.9 159.9h0M184.6 143.8h0M173.9 165.2h0M141 159.5h0M127.2 155.2h0M151.1 161.9h0M161.5 165.3h0M170.8 163.6h0M168.3 174.3h0M171 167.3h0M191.6 155.4h0M150.4 173.7h0M144.7 183.5h0M149.6 153.9h0M149.5 168.3h0M192.7 162.1h0M122.7 178.9h0M140.3 176.1h0M165.4 168.8h0M136.3 160.3h0M130.5 156.7h0M186.4 176.3h0M125.8 167h0M167.9 171.2h0M161 173.2h0M122.4 144.7h0M174.9 158.6h0M164.1 172.2h0M192.4 163.4h0M174.7 153.1h0M149 166.4h0M159.4 172.4h0M165.5 167.7h0M166.6 170.9h0M160.6 162.6h0M141 153.5h0M186.4 177.3h0M159.1 162.3h0M155.9 163.7h0M187.7 160.1h0M159.6 174.3h0M179.6 166h0M139.1 157.4h0M154.8 151.2h0M167.5 156.5h0M183.5 179.7h0M125.3 175.7h0M180 154.1h0M131 161h0M129.5 159.4h0M147.4 161.3h0M154.2 173.8h0M128.5 186.4h0M171.3 147.7h0M154 178.9h0M175.8 162.5h0M132.9 167.8h0M159 171.5h0M139.1 169.6h0M149.2 159.1h0M123.6 161.3h0M126.4 154.5h0M134.9 165.8h0M145.1 170.9h0M139.3 162.7h0M167.1 167.6h0M182.9 162h0M178.2 156.4h0M165.9 166.2h0M153.5 162.7h0M148.2 166.1h0M151.1 171.1h0M168 161.7h0M149.5 171.5h0M163.1 159.8h0M190.8 166.9h0M172.5 172.8h0M145.5 155.9h0M127.3 164.2h0M159.4 172.4h0M157.3 153.4h0M124.1 172.4h0M164.1 173.3h0M181.5 162.4h0M151.5 181.3h0M153.3 161.7h0M156.9 179.6h0M169.6 165.6h0M174.5 166.4h0M170.2 163.1h0M161.3 162.8h0M130.6 178.3h0M137.9 151.3h0M129.5 157.5h0M128.5 164.3h0M126.2 174.9h0M170.3 166.8h0M126.2 173.5h0M171 173.8h0M192.7 159.2h0M179.9 161.4h0M145.9 167.8h0M158.8 140.3h0M141.7 163.6h0M140.8 166.9h0M182.9 158.8h0M161.5 172.9h0M125.9 165.1h0M143.8 154.7h0M182.7 175.3h0M140.4 163.7h0M160.1 162h0M148.7 173.6h0M163.5 162.4h0M148.1 162.8h0M187.1 169.6h0M161.5 157.8h0M159.9 162.3h0M151.1 171.1h0M141.6 167.3h0M178.4 167.8h0M178.9 152.2h0M164 182.7h0M153.7 159.2h0M184.2 156.4h0M167.4 161.4h0M125.8 162.5h0M164.3 166.9h0M135 155.3h0M178.7 169.4h0M157.4 170.1h0M143.1 175.3h0M137.2 162.1h0M187 168.4h0M136.9 161.6h0M177.6 162.4h0M189.3 174.7h0M140.5 158.4h0M186.2 166.3h0M126.3 168.8h0M171.3 149.6h0M143 160.5h0M138.7 170.7h0M161.8 168h0M133.2 158.4h0M181.6 168.3h0M133 157.6h0M149.9 186.1h0M124.6 172.9h0M138 156.6h0M160.8 157h0M173.6 159.5h0M152.6 166.2h0M180.7 168.1h0M130.9 140.6h0M188.5 177h0M159.4 166.4h0M175.2 157.3h0M157.3 161.3h0M156.5 166h0M183.2 172.8h0M128.5 170.3h0M132.1 166.8h0M181.9 147.5h0M138.3 162.6h0M164.5 165.4h0M190.5 175.4h0M168.6 148.3h0M125.8 168.9h0M139.7 156.8h0M174.6 158.3h0M143.3 151.6h0M127.2 167.9h0M161.2 165.8h0M177.9 171.9h0M124.7 169.6h0M158.5 154.9h0M131.6 157.8h0M163 169.2h0M169.1 158.2h0M133.9 155.2h0M145.7 147.6h0M181.7 158h0M132.8 171.1h0M128.9 161.6h0M157.3 167.3h0M160.1 157.8h0M133.9 158.4h0M160.1 172.2h0M136.2 164.8h0M150.8 163.3h0M139.2 160.5h0M183.7 181.5h0M123.4 164.7h0M188.8 178.8h0M162.5 163.5h0M170.9 162.7h0M133.1 151.1h0M140.9 156.6h0M158.8 162.9h0M142.9 161.9h0M163.1 166.7h0M138.8 176.2h0M172.4 172.5h0M126.7 164.2h0M191.6 153.6h0M125.2 173.7h0M179.7 172.9h0M146.4 161.2h0M187.2 172.9h0M123.1 156.7h0M151 167.6h0M128.5 164.1h0M170.2 151.3h0M133 167h0M136.3 160.8h0M137.8 175.3h0M192.6 145.2h0M178.1 173.9h0M177.2 163.3h0M186.3 164.4h0M136.3 176h0M166.4 156.4h0M128.8 176.2h0M172.9 167.3h0M190.4 160.6h0M169.7 164.6h0M180.7 168.9h0M188.4 153.4h0M181 172h0M178.9 171.8h0M180.5 169.2h0M177.6 159.8h0M190 169.5h0M159.8 160.7h0M190.6 165.8h0M177.8 164.7h0M138.7 149h0M136.3 170.2h0M157 162.9h0M186.3 169.5h0M149.9 176.2h0M177.6 161.2h0M188.7 176.3h0M180.5 167.4h0M168.3 162.6h0M181.3 170.3h0M181.3 155.3h0M178.2 155.1h0M123.5 164.2h0M130.1 161.3h0M164.9 172.3h0M154.6 167.4h0M147.2 159.7h0M181.8 169.4h0M128.5 169.1h0M141.4 167.1h0M168.9 172.8h0M179.2 155.6h0M125.2 156.1h0M180.3 161.9h0M189.8 158.6h0M147.8 161.8h0M165.3 147.7h0M185.3 172h0M189.7 158.6h0M158 159.3h0M180.9 164.9h0M133.7 164.7h0M134.7 164.5h0M188.9 178.7h0M140 160.3h0M147.1 156.2h0M183.1 158.4h0M158.5 177.8h0M185.3 151.5h0M169.3 154.4h0M153.6 159.3h0M189.8 172.2h0M166.9 155.4h0M148.8 176.6h0M186.3 166.2h0M157.4 179h0M126.3 147.8h0M181.2 168.7h0M153.9 174h0M175.3 154.4h0M175.2 172.8h0M124.8 166.5h0M189.5 160.6h0M185.1 157.9h0M163 156h0M125.6 175h0M167.5 156.1h0M142.1 164h0M160.7 171.2h0M152 152.9h0M179 166.1h0M170 179.7h0M172.3 150.3h0M171 165.3h0M162.8 159.8h0M180.5 162.5h0M132.2 171.7h0M158.7 161h0M174.4 167.9h0M134.3 165.5h0M143.3 162h0M149.3 144.2h0M135.5 168.8h0M144.1 159.5h0M144.9 166.4h0M153.2 159.6h0M150.1 160.5h0M149.5 158.3h0M136.7 165.9h0M186.4 179.2h0M167.2 159.8h0M177.2 166.3h0M175.7 160.2h0M155.5 175.8h0M175.4 168.9h0M141.7 176.3h0M159.6 150.8h0M142.6 168.8h0M176.7 169.1h0M125.2 159.6h0M147.2 173.8h0M188.6 165.1h0M127.2 158.5h0M161 164.2h0M151.4 176.7h0M179.2 159.2h0M167.8 160h0M190.5 172.8h0M176.9 173.8h0M150.1 152.1h0M146.4 169.4h0M150 161.9h0M135.4 171.6h0M183.7 174.1h0M169.5 166.5h0M185.9 159.6h0M126.9 159h0M151.4 180.3h0M169.4 164.7h0M163 173.2h0M141.6 158.5h0M181.9 160.8h0M133 179.5h0M169.6 164.3h0M185.6 174h0M185.7 165.2h0M168 179.5h0M184.2 155.9h0M171.9 155.2h0M165.5 165h0M164.8 161.5h0M180.4 165.3h0M138.1 159h0M128.9 174.4h0M178.8 184.1h0M147.7 165.5h0M181.4 167.5h0M145.2 153.1h0M132.1 164.3h0M141.7 156.3h0M161.4 161.3h0M179.2 149.8h0M130.1 160.8h0M138.1 169.6h0M145.6 169.9h0M162.4 161.6h0M137 150.4h0M181.5 160.9h0M124.4 173.9h0M177.2 155.1h0M152.2 162.8h0M126.7 173.4h0M163.5 174h0M150.5 175.3h0M138.3 165.3h0M183.5 149.9h0M190.1 164.9h0M145.5 161.4h0M156 164.8h0M131.7 176.3h0M172.2 161h0M154.4 167.4h0M150.7 160.1h0M142.2 160h0M158.7 152.1h0M153.2 160.4h0M136.2 152.5h0M141 176.2h0M190.9 169.2h0M175 147.2h0M173.2 170.3h0M173 159.4h0M123.2 162.4h0M183.2 166.5h0M140.9 175.7h0M147.4 158.6h0M192.2 154.7h0M143.9 159.7h0M147.3 163.1h0M185.7 161.5h0M129.5 172.9h0M129.8 156.5h0M155.5 152.9h0M192.1 152.2h0M155.9 172.1h0M180.2 161.8h0M162 161.7h0M158.1 162.9h0M123.8 158.5h0M186.4 169.3h0M191.4 183.4h0M153.1 165.4h0M179.5 172.4h0M181.6 163.6h0M137.4 163.5h0M163.6 165.3h0M180.8 163.7h0M177.7 166.8h0M185 164h0M160 158h0M166.3 161.4h0M184.7 176h0M136.8 163.4h0M139.5 157.9h0M129.6 168.9h0M164 160.7h0M154.5 160.6h0M163.6 172.8h0M153.3 174.1h0M127.1 164.9h0M155.5 167.2h0M150.5 170.5h0M139.2 175.8h0M168.1 167.8h0M132.3 173.1h0M186.4 166.9h0M139.1 166.2h0M191.9 163.4h0M177.9 156.5h0M180.4 173.4h0M125 174.4h0M128.9 150.1h0M125 166.7h0M125.7 163.4h0M137.8 145.8h0M169.7 154h0M187.1 169.4h0M140.8 163.6h0M175.7 163.2h0M129.6 151.9h0M135.5 166.6h0M179.2 159.4h0M129.8 156.2h0M177.8 150.6h0M122.5 176h0M182.3 178.6h0M157.7 169.7h0M166 176.5h0M127.8 172.6h0M126.1 170.9h0M150.3 166.4h0M122.8 164.6h0M180.8 166.3h0M179.5 168.5h0M168.1 163.4h0M136.9 168h0M191.1 162.8h0M160.8 166.7h0M173.8 161.6h0M182.2 162.3h0M148.2 167.6h0M143.6 164.1h0M165.1 169.1h0M191.3 164.4h0M127.6 165.4h0M130.3 168.4h0M159 174.7h0M154.4 173.8h0M168 158.4h0M186.9 166.1h0M186.7 178.9h0M181.3 164.9h0M170.3 166.5h0M182.2 179.6h0M135 157.5h0M188.8 176.3h0M140.1 160h0M143.5 168.7h0M129 158.7h0M153.5 152.8h0M188 165.9h0M176 151h0M175.4 186.7h0M141.6 164.5h0M123.8 156.1h0M138.6 150.7h0M145.5 176.5h0M176.6 161.8h0M178.3 181.3h0M159.8 152.5h0M144.4 155.2h0M166.5 171.3h0M190.4 157h0M133.7 176h0M160.3 166.8h0M188.4 179.5h0M170.9 154.7h0M190.5 159.8h0M142.6 161.5h0M186.2 158.2h0M172.8 164h0M192.1 160.6h0M170.7 156.7h0M171 164.8h0M139.8 178h0M140.4 152.3h0M137 162.4h0M140.6 153.2h0M164 167.1h0M168.6 174.7h0M143.7 171.7h0M126.8 163.2h0M147.8 163.9h0M132.3 157.3h0M190.7 158.3h0M170.8 166.5h0M134.8 150.8h0M129.4 167.2h0M170.9 156.7h0M153.7 165h0M188 168.1h0M146.4 163.5h0M180.7 166.3h0M138.3 155.6h0M169.6 176h0M141.9 159.3h0M186.1 164.2h0M133.4 170.3h0M168.9 173.6h0M135 162.2h0M191.6 161.6h0M149.3 170.6h0M138 173.1h0M126.9 148.7h0M131.5 163h0M190.2 173h0M132.1 154.7h0M177.9 164.6h0M159.2 156.8h0M130.2 164.3h0M142.4 150.1h0M149.1 164h0M136 170.2h0M137.7 170.3h0M167.5 159.4h0M155.6 162.7h0M169.1 166.4h0M181.3 164.3h0M153.2 162.5h0M130.5 176.9h0M128.9 161.3h0M130.6 169.5h0M138.6 163.9h0M221.8 157.4h0M209.3 169.8h0M231.2 161.1h0M251.5 163h0M216 160.2h0M227.2 157.7h0M272.4 148.2h0M277.3 175.5h0M238.5 162.3h0M272.8 172.1h0M264.7 165.3h0M213.9 171.4h0M272.7 177.2h0M268.3 168.8h0M217.6 167.9h0M262.9 174.8h0M239.6 156.5h0M227.3 141.5h0M260 160.9h0M256.5 170.9h0M235.4 163.4h0M274.8 157.8h0M233.5 175.9h0M209.4 165.2h0M260.6 165.1h0M232.7 184.3h0M222.3 173.6h0M253.9 151.6h0M236.1 170.1h0M272.3 165.4h0M240.8 181.6h0M221.4 165.2h0M258.4 175.2h0M214.2 150.3h0M227 171.8h0M234.1 172.9h0M248.3 162.4h0M207.6 154.3h0M263.8 165h0M246.4 146.2h0M249.9 168h0M262.3 168.1h0M228.1 153.4h0M255.3 177.5h0M265 177.9h0M274.7 158.9h0M220.8 156.4h0M243.4 158.6h0M218 161h0M234.9 145.3h0M218 159.3h0M220.9 152.9h0M241 174.7h0M243 167h0M266.5 142.2h0M221.5 162.1h0M210.2 163.1h0M245.4 177.1h0M222.8 162.9h0M258.7 172.7h0M223.6 177.1h0M233.7 170.7h0M241.3 151.7h0M256.2 158.9h0M218.3 179.5h0M214.6 169.4h0M266.6 162.4h0M225 166.8h0M213.4 164.6h0M242 160.4h0M225.2 167.8h0M233.7 154.2h0M263.1 165.3h0M223.3 169.2h0M208.1 166.7h0M256.6 160.4h0M262.5 157.8h0M210.1 164.7h0M260.9 183.6h0M235.2 152.7h0M229.5 143.3h0M243.6 154.1h0M238.6 179.8h0M266.1 158.1h0M241.1 160.2h0M270.3 155.6h0M236.2 171.1h0M240 175.1h0M248 164.1h0M268.5 152.1h0M213.1 178.1h0M276.5 149.8h0M208.4 174.1h0M266.9 174.3h0M240.6 158.9h0M257.7 158.5h0M258.8 160.6h0M253.8 151.1h0M253.9 154.1h0M230.4 163.1h0M249.6 167.1h0M254.8 160.1h0M227.7 162.4h0M246 172.5h0M264.5 152.7h0M212.3 154h0M273.5 149.1h0M233.5 162h0M220.2 173.6h0M236.8 157.5h0M216.1 172.6h0M275.7 165.7h0M234.5 170.9h0M275.8 161.7h0M230.2 175.6h0M235.2 179.1h0M260.7 165.3h0M210.5 159.9h0M239.2 159.9h0M238.6 169.2h0M261.3 165.4h0M244.1 159h0M237.5 145.3h0M224.3 172.3h0M247 166.7h0M238.8 163.2h0M272.1 168.7h0M257.6 152.3h0M211.9 160.3h0M228.8 166.6h0M258 155.1h0M216.4 163.4h0M240.9 159h0M223.2 163.9h0M213.2 159.1h0M244 161.1h0M217.2 160.1h0M225.3 173.6h0M224.5 162.9h0M259.8 167h0M214.4 155.1h0M249.6 167.9h0M268.4 161.6h0M256.4 162.4h0M248.9 165.9h0M242.5 172.2h0M220.7 171.8h0M248.8 161.5h0M228.6 166.7h0M213.5 150.7h0M264 171.5h0M215.6 164.3h0M243.4 180h0M233.9 164.9h0M236.6 158.4h0M276.7 169.4h0M270.4 141.3h0M225.6 165.9h0M264.9 169.5h0M277.8 168.7h0M253.2 159.9h0M213.1 176.1h0M268.4 161.1h0M250.9 157.8h0M221.2 179.4h0M214.3 160.9h0M254.1 155.8h0M253.3 157.8h0M256 158.4h0M275.2 162.8h0M235.1 172.9h0M256.6 160.2h0M259.7 170.3h0M247.7 172.5h0M243.8 155.5h0M275.5 142.5h0M262.3 153.6h0M266.7 165h0M224.5 165.2h0M273.7 179.9h0M266.3 158.9h0M263 169.8h0M241 168.1h0M263.8 155.9h0M266.9 156.4h0M219.5 176.5h0M218.5 170.6h0M231.2 167.3h0M214.7 155.8h0M223.3 151.7h0M267.3 173.5h0M228.8 147.9h0M226.4 165.7h0M238.2 163.6h0M234.3 145.2h0M233.9 163h0M207.5 157.7h0M225.3 166.2h0M209.2 152.1h0M248.5 155.5h0M243 164.3h0M275.9 156.5h0M233.7 144.3h0M216.3 165.8h0M267.3 149.3h0M264.6 162.5h0M256.5 181.4h0M218.4 170h0M245.6 165.5h0M221 154.7h0M257.4 179.6h0M251.8 172h0M249.7 148.8h0M247.5 172.9h0M230.5 156.1h0M214.7 168.6h0M231 170.6h0M253 186.2h0M254.2 148.9h0M238.9 171h0M240.1 164h0M215.2 173h0M251.2 161.8h0M255.7 171.3h0M270.4 160.8h0M242.3 160.7h0M231.1 164.4h0M263.4 174.8h0M252 152.5h0M219.8 141.5h0M212.9 166.3h0M241.4 164h0M236.6 154.9h0M267.4 167.3h0M262.5 170.6h0M229 168.2h0M242.1 175.6h0M243.1 155.9h0M230.3 176.3h0M231.2 184.8h0M208.3 161.8h0M237.3 162.7h0M266.5 172.7h0M266.5 188.4h0M248.8 165.9h0M234.5 165.2h0M225.9 167.1h0M245.7 167h0M234 174.4h0M214.7 164h0M259.1 160.4h0M215.7 177h0M249.7 144.8h0M261 185.2h0M210.7 154.1h0M227 174.4h0M272.4 155h0M224.9 182.8h0M248.2 170.4h0M261.2 158.9h0M251 170.5h0M272.9 153.9h0M247.5 153.7h0M277.5 171h0M209.6 176.4h0M258.7 161.4h0M275.8 172.4h0M252.2 172.3h0M245.1 171.1h0M208.5 187.1h0M230.1 162.1h0M263.2 166.9h0M209.7 174.9h0M224.3 178.5h0M234.4 162.3h0M244.8 149.5h0M250.2 170.4h0M274.8 153h0M262.4 157.5h0M243.9 166.7h0M234.7 174.5h0M219.8 150.1h0M246.9 161.1h0M208.8 187h0M226.6 187.3h0M219 163.5h0M266.8 174.3h0M272.9 157.1h0M212 167.2h0M216.9 159.5h0M228.9 168.4h0M216.1 176.7h0M264 169.9h0M265.3 164.7h0M265.4 159.7h0M264.6 142h0M223.7 145h0M265.7 164.4h0M214.4 162.8h0M252.2 181.2h0M266.2 155.9h0M266.3 165.3h0M272.4 170.2h0M255.7 150.9h0M267.3 171.6h0M225.2 167.7h0M245.8 151.8h0M270.2 150h0M224.6 169.2h0M216.1 178.2h0M262.4 163.6h0M214.4 172.8h0M227.4 163h0M265 175.3h0M218.8 157.4h0M269.5 158.9h0M218.9 149.9h0M213.9 157.3h0M254.6 158.2h0M254.3 160.8h0M269.1 173.4h0M209.7 158.8h0M231.5 163.6h0M257.9 147.4h0M262.8 179.3h0M216.5 167.5h0M234.6 166.6h0M259.6 156.9h0M222.6 168.1h0M268.4 157.5h0M252.5 173.9h0M272.5 163.3h0M273.7 176.4h0M268.3 160.6h0M225.6 164.7h0M242.9 160h0M261.7 158.8h0M277.3 155.9h0M241.4 178.2h0M270.4 152h0M234 154.6h0M259.7 154.8h0M272.6 169h0M243.8 171.5h0M227.8 174.8h0M271.8 160.9h0M271.4 154.6h0M275.5 169.4h0M217.3 152.3h0M269 171.1h0M236.6 162.3h0M267.3 164.6h0M265.3 177.3h0M222.6 151.5h0M260.6 174.3h0M221.4 162.5h0M263.9 165h0M276.5 168.7h0M223.1 171.6h0M248.1 157.4h0M270.3 151.5h0M233.3 169.2h0M215.1 153.8h0M248.6 159.6h0M239 154.5h0M232.2 165.6h0M237 153.6h0M249.2 144.2h0M245.8 171.1h0M229.7 161.2h0M242.3 158.7h0M222.1 155.5h0M211.3 159.7h0M262.7 157h0M270.2 163.1h0M238.6 147.6h0M245.4 167.3h0M212.2 165.1h0M254.6 168.1h0M272.3 173.3h0M265.3 165.7h0M246.5 161.1h0M253.6 164h0M241.8 161.6h0M209.9 165.6h0M227.2 178.1h0M238.9 163.8h0M220.3 158.3h0M265 179.3h0M232 160h0M264.4 176.2h0M235.2 172.5h0M247.1 154.9h0M254.9 140.1h0M245 167.4h0M231.1 167.9h0M223.8 163.6h0M238.8 165.8h0M268.7 161.4h0M228.8 179.7h0M223.9 166.8h0M258.5 172.4h0M232.2 163.7h0M265 177.2h0M277 185.1h0M208.2 144.8h0M269.3 152.5h0M234.9 162.2h0M261.8 167.1h0M262.8 158.4h0M246.3 164.1h0M210.1 175.8h0M261.9 162.3h0M207.5 153.7h0M225.8 172.9h0M252.4 178.8h0M238.7 166.1h0M222 178.9h0M245.2 177.3h0M221.4 173.6h0M229.4 166.9h0M232.1 160.9h0M258.9 169.8h0M259.1 167.3h0M215.7 164.5h0M214.3 170h0M225.2 172.2h0M269.8 165.2h0M273.7 167.9h0M256.5 148.7h0M247.1 165.2h0M274.9 140.8h0M208.4 168.6h0M221.5 157h0M237.8 162.8h0M266.4 165.8h0M229.3 143.7h0M226.7 162.7h0M222.5 157.6h0M215.9 158.3h0M220.2 164.5h0M239 151.7h0M229 181h0M258.5 167.2h0M231.7 149.5h0M247.1 173h0M241 167h0M269.9 159.9h0M250.4 146.5h0M270 151.6h0M209.9 166.7h0M245.3 171.3h0M266.3 171.2h0M254.4 155.3h0M221.1 171.7h0M276.8 171.8h0M220.7 165.2h0M226.8 167.2h0M215.8 157.4h0M219.8 154.9h0M263.5 153.3h0M268.2 156.8h0M216.4 161.1h0M240.7 148.3h0M273.2 169.6h0M275 156.2h0M231.7 144.5h0M221.6 168.8h0M246 160h0M267.3 166.3h0M262.1 164.6h0M214.5 177.7h0M275.1 150.9h0M258.5 154.3h0M229.9 168.5h0M260.4 173.7h0M210.6 155.7h0M264.1 168.4h0M240.7 161.4h0M245.9 172.1h0M209.3 168.4h0M268.1 164.2h0M255.2 187.9h0M274.2 152.6h0M274.9 151.3h0M258.8 157h0M250.2 142.5h0M238.4 162.3h0M249.4 161.4h0M209.6 171.7h0M272.6 164.9h0M217.1 161.7h0M277.6 164.9h0M217.8 171.2h0M270.8 171.1h0M216.7 175.6h0M236.6 163.8h0M237 164.8h0M211.5 159.9h0M274.7 164.6h0M266.8 164.8h0M256.5 167.3h0M242.3 169.9h0M243.6 164.2h0M264 151h0M237.1 149.9h0M226.3 163.8h0M253.1 153.7h0M247.7 155.5h0M243.6 171.9h0M277.2 164.1h0M230.7 162.8h0M229.6 157.3h0M209.9 157.4h0M272.4 184.4h0M256.7 162.5h0M259 164.1h0M258.9 172.7h0M222 176.8h0M262.2 168.9h0M219.3 174.6h0M264.2 149.4h0M276.4 159.6h0M215 160h0M258.5 164.9h0M262.5 178.5h0M243.9 184.7h0M253.2 172.9h0M253.7 174.1h0M260.9 170.5h0M247.9 157.4h0M237.2 157.1h0M238 173h0M235.1 167.9h0M237.6 182.5h0M213.9 145.7h0M208.7 166.2h0M239.1 174.1h0M249.2 169.3h0M208.6 159.2h0M269.1 157.1h0M240.3 167.5h0M230.3 145.3h0M266.5 157.1h0M224.5 165h0M263.7 149.5h0M240.6 169.9h0M263.8 159.9h0M268.4 161.5h0M249.4 168.2h0M277 166.8h0M217.7 175h0M211.8 164.9h0M264.5 168.1h0M254.4 184.7h0M273.2 161.1h0M251 154h0M237.2 156.9h0M225.1 150.3h0M216.1 171.3h0M223.6 171.5h0M230.4 153.9h0M238.5 162.1h0M258.3 170.2h0M230.8 142h0M230.6 172.7h0M250.2 156.8h0M251.4 158.1h0M252.5 165.9h0M216.3 162.4h0M247 160.5h0M251.1 157.2h0M271 171.9h0M248.8 165.2h0M226.9 163.4h0M226 170h0M238.4 159.6h0M221.1 167.7h0M216.8 162.5h0M235.4 156h0M261.1 173.6h0M235.4 158.2h0M262.1 156.1h0M272.4 170.3h0M225.2 152.7h0M255.6 166.1h0M234.4 165.2h0M269.9 159.3h0M232.8 167.9h0M244.6 174.7h0M222.1 160.6h0M255.5 156.6h0M245.8 149.2h0M238 164.3h0M212.4 164.9h0M265.5 157.8h0M246.3 167.9h0M228 158h0M227.2 174.3h0M263.1 150.4h0M256.7 153.9h0M215.5 173.9h0M210.6 160.6h0M244.7 158.1h0M265.5 173.3h0M224.6 169.8h0M276.7 164.3h0M210.7 173.4h0M276.7 165.2h0M215.8 145.7h0M253.5 177.1h0M228.4 148.5h0M214.6 158.9h0M276.5 147.8h0M252.8 167.8h0M226.7 171.7h0M213.6 161.6h0M250.7 164.8h0M232.2 160.5h0M273.1 154.9h0M225 157.5h0M253.8 152.7h0M243.5 156h0M215.3 146.6h0M219.8 163.9h0M241.1 152.8h0M246.5 167.5h0M240.5 184.9h0M210.5 163.6h0M229.9 166.1h0M217.6 178.1h0M216.6 174.7h0M228.3 155.7h0M215.1 176.5h0M255.9 161.8h0M218.4 174.1h0M254 166.7h0M219.1 159.8h0M235.9 157.8h0M246.4 157.6h0M246.4 178.8h0M213.7 154.6h0M230.8 146.8h0M272.4 172.4h0M261.5 181.2h0M247.9 168.3h0M215.8 164.6h0M269.2 160.1h0M230.2 174.6h0M214.6 157.9h0M257.3 159.6h0M269.6 181.1h0M229.9 154.4h0M256.4 151.5h0M233.7 167.6h0M266.1 159.8h0M240 161.1h0M230.1 172.7h0M243.7 165.1h0M232.4 184.6h0M256.4 180.4h0M261.1 153.5h0M246.6 169.5h0M269.9 158.6h0M264 165.9h0M221.3 160.7h0M275.5 147.3h0M244.8 160.2h0M246.6 174.2h0M246.8 167h0M213.8 160.5h0M217.3 166.7h0M254.9 175.7h0M256.3 178.1h0M273.1 163.2h0M224.2 164h0M262.4 157.6h0M261.8 154.7h0M218.5 185.1h0M260.2 168.1h0M235.6 172.3h0M275.2 163.5h0M262.7 168h0M259.1 172h0M241.8 161.7h0M269.7 173.3h0M255.8 176.4h0M264.2 160.7h0M244.8 163.4h0M270.8 164.8h0M257.8 183.4h0M218 163.2h0M231.3 168.6h0M233.8 182.1h0M277.6 166.3h0M216.2 166.9h0M212.9 172.3h0M225.9 168.1h0M239.1 145.7h0M266.6 154.5h0M246.9 172.3h0M250 161.6h0M231.9 140.5h0M258.7 168.2h0M265.7 160.1h0M231.9 162.2h0M216.4 145.5h0M275.1 151.2h0M223.1 164.1h0M226.8 162.4h0M211.5 172.6h0M255 165.9h0M247.1 171.2h0M259.3 169.2h0M256.1 166.9h0M240.2 175.2h0M227.7 154h0M250.9 161.8h0M220.6 151.8h0M267.7 179.9h0M265 170.5h0M226.6 164.1h0M259.5 159.8h0M207.9 165h0M232.4 172.2h0M215.4 153.9h0M267 175.7h0M230.7 146.4h0M229 153.2h0M249.1 141.9h0M265.7 153.3h0M259.2 159.8h0M276.9 160.3h0M233.8 166.3h0M277.9 188.3h0M225.4 169.8h0M209.3 157.3h0M247 167h0M232.9 184.5h0M274.3 175.1h0M269.3 165.3h0M208.8 146.5h0M236.9 157.5h0M233.4 167.1h0M248.5 163.2h0M253.5 149.3h0M214.2 161.2h0M256.6 166.3h0M232.1 162.1h0M277.8 161.4h0M263.9 181.2h0M275.9 160.1h0M272.8 172.1h0M244.1 166.1h0M276.7 166.3h0M266.9 178.9h0M236.3 182.1h0M221.5 171.3h0M268.1 152.6h0M248 162.6h0M217.8 155.3h0M220.5 169.4h0M236.5 173.1h0M207.7 170.1h0M214 165.7h0M225.5 169.5h0M264.4 151.5h0M219.8 179.8h0M207.9 164.1h0M233.2 177.6h0M208.8 171h0M249 161.5h0M276.6 163.5h0M256.5 160.8h0M215.1 162.7h0M277 154.2h0M230.4 168.9h0M218.9 154.4h0M235.9 167.1h0M263.6 172.7h0M220.5 153.5h0M239.4 156.4h0M272.2 151.8h0M254.7 154.6h0M233.6 155.2h0M261 154.8h0M240.8 179.1h0M250.5 162h0M237.3 160.3h0M246.3 154.5h0M270.7 152.1h0M230.7 164.9h0M223.2 175.4h0M225 176.1h0M256.2 154.8h0M273.7 164.5h0M238.3 175.7h0M221.8 180.4h0M231.9 160.9h0M229.1 164.9h0M241.1 164.9h0M273.1 178.2h0M254.7 160.8h0M210.1 164.5h0M237.9 152.8h0M252.1 162.5h0M221.8 158.3h0M275.2 172.4h0M232.7 173.4h0M226 172.8h0M262.5 157.1h0M230.1 164.3h0M269.7 167.2h0M228.6 164.5h0M250.5 162.8h0M262.4 168.9h0M235 174.5h0M238.4 166h0M277.3 145.5h0M259.4 175.1h0" stroke="#7ecaf3" stroke-width="2.0" stroke-linecap="round" fill="none"/>
<rect x="29.2" y="151.2" width="85.4" height="21.2" fill="#f4d6c0"/>
<rect x="38" y="151.2" width="69.5" height="21.2" fill="#a5b7be"/>
<rect x="114.6" y="151.2" width="85.1" height="21.2" fill="#d4eecb"/>
<rect x="123.5" y="151.2" width="68.6" height="21.2" fill="#8ecfc7"/>
<rect x="199.7" y="151.2" width="85" height="21.2" fill="#ccd7ee"/>
<rect x="207.9" y="151.2" width="68.8" height="21.2" fill="#80b8e7"/>
<rect x="29.2" y="151.2" width="85.4" height="21.2" fill="none" stroke="#4a4a4a" stroke-width="0.9"/>
<rect x="114.6" y="151.2" width="85.1" height="21.2" fill="none" stroke="#4a4a4a" stroke-width="0.9"/>
<rect x="199.7" y="151.2" width="85" height="21.2" fill="none" stroke="#4a4a4a" stroke-width="0.9"/>
<g font-family="Liberation Sans, sans-serif" font-weight="bold" font-size="6.9" fill="#1e1e1e">
<text x="30.6" y="164.6" textLength="81.4" lengthAdjust="spacingAndGlyphs">Early EW vs Extended EW</text>
<text x="128.6" y="164.6" textLength="65.8" lengthAdjust="spacingAndGlyphs">Early EW vs Late EW</text>
<text x="204.6" y="164.6" textLength="80" lengthAdjust="spacingAndGlyphs">Late EW vs Extended EW</text>
</g>
<rect x="21" y="45.8" width="1.9" height="176" fill="#000"/>
<g font-family="Liberation Sans, sans-serif" font-size="6.6" fill="#666" text-anchor="end">
<text x="18.2" y="57.1">4</text>
<text x="18.2" y="110.8">2</text>
<text x="18.2" y="165">0</text>
<text x="18.2" y="220">-2</text>
</g>
<text transform="translate(7.6,158.8) rotate(-90)" text-anchor="middle" font-family="Liberation Sans, sans-serif" font-weight="bold" font-size="8.8" fill="#000">log2(Fold Change)</text>
<g font-family="Liberation Sans, sans-serif" font-size="7.3" fill="#2b2b2b">
<text x="49.9" y="54.9">MYL1</text>
<text x="53.1" y="75.8">IBP1</text>
<text x="74.1" y="71.6">PRVA</text>
<text x="71.6" y="94.9">LV746</text>
<text x="70.6" y="116.8">MYL11</text>
<text x="137.4" y="91.3">PRVA</text>
<text x="134.2" y="112">CASB</text>
<text x="161" y="107.3">MYL1</text>
<text x="155.7" y="128.3">MYL11</text>
<text x="156.7" y="199.6">APOH</text>
<text x="221.6" y="117">HV323</text>
<text x="241.1" y="134.7">HV5X1</text>
<text x="240.6" y="182.2">TADBP</text>
<text x="218" y="197.7">UGDH</text>
<text x="243" y="214.5">ADH4</text>
</g>
<text x="231" y="45.3" font-family="Liberation Sans, sans-serif" font-size="8.8" fill="#222">Significance</text>
<circle cx="225.2" cy="61.6" r="0.85" fill="#f3a6be"/>
<circle cx="224.9" cy="80.6" r="0.85" fill="#7cc8f0"/>
<g font-family="Liberation Sans, sans-serif" font-size="8.2" fill="#222">
<text x="226.8" y="65.5">P.adj.fdr value &lt; 0.05</text>
<text x="226.6" y="85.1">P.adj.fdr value &gt;= 0.05</text>
</g>
</g>
<g id="pb">
<g stroke="#d6d6d6" stroke-width="0.75" stroke-dasharray="2.6,2.05" fill="none">
<path d="M367.3 186.4V85.2"/>
<path d="M373.7 186.4V41.6"/>
<path d="M380.2 186.4V133.6"/>
<path d="M386.6 186.4V130.9"/>
<path d="M393 186.4V143.1"/>
<path d="M399.5 186.4V166.7"/>
<path d="M405.9 186.4V162.9"/>
<path d="M412.4 186.4V173.7"/>
<path d="M418.8 186.4V181.5"/>
<path d="M425.2 186.4V40.7"/>
<path d="M431.7 186.4V39.5"/>
<path d="M438.1 186.4V39.5"/>
<path d="M444.5 186.4V47.9"/>
<path d="M451 186.4V55.8"/>
<path d="M457.4 186.4V61.4"/>
<path d="M463.8 186.4V51.6"/>
<path d="M470.3 186.4V49.8"/>
<path d="M476.7 186.4V55.3"/>
<path d="M483.1 186.4V32.6"/>
<path d="M489.6 186.4V34"/>
<path d="M496 186.4V41.9"/>
<path d="M502.5 186.4V92.6"/>
<path d="M508.9 186.4V92.6"/>
<path d="M515.3 186.4V83.1"/>
<path d="M521.8 186.4V79.7"/>
<path d="M528.2 186.4V86.6"/>
<path d="M534.6 186.4V61.4"/>
<path d="M541.1 186.4V68.4"/>
<path d="M547.5 186.4V42.8"/>
<path d="M553.9 186.4V66.5"/>
<path d="M560.4 186.4V55.3"/>
<path d="M566.8 186.4V97.4"/>
<path d="M573.3 186.4V63.7"/>
<path d="M579.7 186.4V83.7"/>
<path d="M586.1 186.4V72.6"/>
<path d="M592.6 186.4V104.4"/>
<path d="M599 186.4V93.2"/>
<path d="M605.4 186.4V38.1"/>
<path d="M611.9 186.4V64.7"/>
<path d="M618.3 186.4V67.2"/>
<path d="M624.7 186.4V85"/>
<path d="M631.2 186.4V96.9"/>
<path d="M637.6 186.4V81.1"/>
<path d="M644 186.4V49.8"/>
<path d="M650.5 186.4V37.2"/>
<path d="M656.9 186.4V40.9"/>
<path d="M663.4 186.4V33"/>
<path d="M669.8 186.4V41.4"/>
<path d="M676.2 186.4V30.7"/>
<path d="M682.7 186.4V36.8"/>
</g>
<path d="M407 21.3H681.7M407 21.3V22.2M370.2 22.2H443.3M370.2 22.2V26.1M365.5 26.1H376M365.5 26.1V44.8M363.4 44.8H368.4M363.4 44.8V49.7M368.4 44.8V76.5M366.2 76.5H369.5M366.2 76.5V80.2M369.5 76.5V80.2M376 26.1V28.8M372.5 28.8H379.5M372.5 28.8V33.1M379.5 28.8V31.9M375.4 31.9H383.6M375.4 31.9V36.6M383.6 31.9V34.3M379.6 34.3H387.3M379.6 34.3V124.2M378.3 124.2H381.4M378.3 124.2V128.6M381.4 124.2V128.6M387.3 34.3V116M384.3 116H390.3M384.3 116V120.7M390.3 116V121.3M387 121.3H394M387 121.3V125.9M394 121.3V128.8M389.9 128.8H397.7M389.9 128.8V133.5M397.7 128.8V132.9M392.7 132.9H402.7M392.7 132.9V138.1M402.7 132.9V146.3M398 146.3H407.6M398 146.3V152.1M395.7 152.1H400.3M395.7 152.1V156.7M400.3 152.1V157.3M398.6 157.3H401.7M398.6 157.3V161.7M401.7 157.3V161.7M407.6 146.3V149.2M404.7 149.2H410.5M404.7 149.2V153.6M410.5 149.2V153.3M407.6 153.3H413.4M407.6 153.3V157.9M413.4 153.3V159.1M410.5 159.1H416M410.5 159.1V163.7M416 159.1V164.3M413.4 164.3H418.6M413.4 164.3V168.7M418.6 164.3V169.5M416.3 169.5H420.9M416.3 169.5V174.5M420.9 169.5V171.9M419.4 171.9H422.4M419.4 171.9V176.5M422.4 171.9V176.5M426.3 22.2V31.7M425.1 31.7H428.6M425.1 31.7V35.7M428.6 31.7V35.7M429.3 22.6H443.3M434.4 22.6V25.2M431 25.2H438.6M431 25.2V29.4M438.6 25.2V26.6M435.3 26.6H441.9M435.3 26.6V30.3M433.5 30.3H437.2M433.5 30.3V34.5M437.2 30.3V34.5M441.9 26.6V29M439.5 29H444.4M439.5 29V33.6M444.4 29V38.7M442.6 38.7H445.6M442.6 38.7V42.9M445.6 38.7V42.9M448.4 21.3V27.6M463 21.3V23.4M457.2 23.4H468.8M457.2 23.4V29.4M453.3 29.4H461.4M453.3 29.4V46.6M451.4 46.6H455.8M451.4 46.6V50.8M455.8 46.6V52.2M454.4 52.2H457.7M454.4 52.2V56.4M457.7 52.2V56.4M461.4 29.4V42M460.2 42H463.7M460.2 42V46.6M463.7 42V46.6M468.8 23.4V26.2M466.2 26.2H471.6M466.2 26.2V31.3M471.6 26.2V32.7M469.3 32.7H474.4M469.3 32.7V37.3M474.4 32.7V40.1M472.1 40.1H476.3M472.1 40.1V44.8M476.3 40.1V46.2M474.9 46.2H478.1M474.9 46.2V50.3M478.1 46.2V50.3M480.8 23.8H492.5M480.8 21.3V26M483.6 23.8V27.6M486.3 23.8V28.5M489.4 23.8V29M492.5 21.3V23.8M492.5 24.9H603M500.3 24.9V29.4M492.2 29.4H508.5M492.2 29.4V34.1M508.5 29.4V32.2M495.3 32.2H522M495.3 32.2V36.9M522 32.2V37.3M508.3 37.3H535.6M508.3 37.3V42.4M500.6 42.4H516.4M500.6 42.4V50.3M498.4 50.3H503.4M498.4 50.3V55M503.4 50.3V60.6M501.5 60.6H505.5M501.5 60.6V64.8M505.5 60.6V83.7M503.9 83.7H507.7M503.9 83.7V87.6M507.7 83.7V87.6M516.4 42.4V49.4M511.3 49.4H520.6M511.3 49.4V68.5M510.1 68.5H513.3M510.1 68.5V71.8M513.3 68.5V71.8M520.6 49.4V54.5M517.3 54.5H524.1M517.3 54.5V74M515.8 74H519.5M515.8 74V78.1M519.5 74V78.1M524.1 54.5V70.5M521.6 70.5H526.5M521.6 70.5V74.7M526.5 70.5V77.4M524.4 77.4H527.9M524.4 77.4V81.6M527.9 77.4V81.6M535.6 37.3V40.6M532 40.6H538.6M532 40.6V52.2M530.6 52.2H533.6M530.6 52.2V56.4M533.6 52.2V56.4M538.6 40.6V47.1M536.5 47.1H541.2M536.5 47.1V51.3M541.2 47.1V59.2M539.3 59.2H542.6M539.3 59.2V63.4M542.6 59.2V63.4M555 24.9V26.3M546.3 26.3H558.4M546.3 26.3V33.1M545.2 33.1H548.6M545.2 33.1V37.8M548.6 33.1V37.8M558.4 26.3V32.7M552.3 32.7H564.6M552.3 32.7V57.3M551.2 57.3H554.4M551.2 57.3V61.5M554.4 57.3V61.5M564.6 32.7V35.3M558.4 35.3H570.5M558.4 35.3V46.6M557 46.6H560M557 46.6V50.3M560 46.6V50.3M570.5 35.3V38.3M564.9 38.3H576.5M564.9 38.3V56.4M562.7 56.4H567.2M562.7 56.4V60.6M567.2 56.4V88.5M565.5 88.5H569M565.5 88.5V92.4M569 88.5V92.4M576.5 38.3V42.4M571.4 42.4H581.6M571.4 42.4V46.6M581.6 42.4V47.6M576.2 47.6H587.2M576.2 47.6V54.5M574.5 54.5H579M574.5 54.5V58.7M579 54.5V74.5M577.3 74.5H580.8M577.3 74.5V78.7M580.8 74.5V78.7M587.2 47.6V51.3M583.5 51.3H591M583.5 51.3V55.5M591 51.3V62.6M586.4 62.6H595.5M586.4 62.6V67.6M595.5 62.6V77.3M591.7 77.3H599.6M591.7 77.3V87.4M589.5 87.4H593.4M589.5 87.4V91.6M593.4 87.4V95.5M592 95.5H595.5M592 95.5V99.4M595.5 95.5V99.4M599.6 77.3V84.3M597.8 84.3H601M597.8 84.3V88.2M601 84.3V88.2M608 24.9V26.3M603.1 26.3H613.4M603.1 26.3V30.6M613.4 26.3V29M606.4 29H620.3M606.4 29V33.1M620.3 29V33.4M612 33.4H628.3M612 33.4V42.9M609.7 42.9H614.3M609.7 42.9V47.6M614.3 42.9V55.5M612.4 55.5H615.5M612.4 55.5V59.7M615.5 55.5V59.7M628.3 33.4V42.9M621.5 42.9H635.6M621.5 42.9V57.6M618.4 57.6H624.4M618.4 57.6V62.2M624.4 57.6V62.2M621.7 62.2H627M621.7 62.2V67.5M627 62.2V75.4M624.4 75.4H629M624.4 75.4V80M629 75.4V87.3M627.4 87.3H631M627.4 87.3V91.9M631 87.3V91.9M635.6 42.9V56.4M633.5 56.4H637.6M633.5 56.4V60.9M637.6 56.4V71.5M635.8 71.5H639.5M635.8 71.5V76.1M639.5 71.5V76.1M641.7 21.3V24.3M641.7 24.3H646.6M641.6 23.8H646.6M642.1 23.8V28.5M646.6 22.4V40.1M644.7 40.1H647.7M644.7 40.1V44.8M647.7 40.1V44.8M646.6 22.4H664.4M650 22.4V24.8M649.5 24.8H652.8M652.8 24.8V27.6M650.5 27.6H655.6M650.5 27.6V32.2M655.6 27.6V31.3M653.5 31.3H656.8M653.5 31.3V35.9M656.8 31.3V35.9M659.8 22.4V26.6M662.6 22.4V28M662.6 23.2H667.7M667.7 23.2V28.5M665.6 28.5H669.6M665.6 28.5V32.7M669.6 28.5V31.8M668.3 31.8H671.4M668.3 31.8V36.4M671.4 31.8V36.4M655 21.3V22.4M674.5 21.3V25.7M677.5 21.3V25.7M681.7 21.3V27.1M679.8 27.1H683M679.8 27.1V31.8M683 27.1V31.8" stroke="#7c7c7c" stroke-width="0.85" fill="none"/>
<path d="M350.6 21.1V186.5" stroke="#444" stroke-width="0.9"/>
<path d="M347.2 21.1H350.6M347.2 45.6H350.6M347.2 70.4H350.6M347.2 95.1H350.6M347.2 119.3H350.6M347.2 144.2H350.6M347.2 169.3H350.6" stroke="#444" stroke-width="0.9"/>
<g font-family="Liberation Sans, sans-serif" font-size="10.3" fill="#333" text-anchor="middle">
<text transform="translate(346.4,6.2) rotate(-90)">1.0</text>
<text transform="translate(346.4,31.9) rotate(-90)">0.9</text>
<text transform="translate(346.4,60.5) rotate(-90)">0.8</text>
<text transform="translate(346.4,90.9) rotate(-90)">0.7</text>
<text transform="translate(346.4,117) rotate(-90)">0.6</text>
<text transform="translate(346.4,143.8) rotate(-90)">0.5</text>
<text transform="translate(346.4,168.9) rotate(-90)">0.4</text>
</g>
<text transform="translate(332.4,117.7) rotate(-90)" text-anchor="middle" font-family="Liberation Sans, sans-serif" font-size="10.5" fill="#222">Height</text>
<g font-family="Liberation Sans, sans-serif" font-size="10.5" fill="#222">
<text x="325.8" y="206.4">Module</text><text x="325.8" y="216.6">Colors</text>
</g>
<rect x="361.7" y="188.7" width="3.3" height="37.8" fill="#0000ff"/>
<rect x="364.9" y="188.7" width="5.9" height="37.8" fill="#bebebe"/>
<rect x="370.6" y="188.7" width="52.6" height="37.8" fill="#0000ff"/>
<rect x="423.1" y="188.7" width="5.9" height="37.8" fill="#ff2010"/>
<rect x="428.9" y="188.7" width="3.3" height="37.8" fill="#33ff00"/>
<rect x="432" y="188.7" width="3" height="37.8" fill="#0000ff"/>
<rect x="434.9" y="188.7" width="3.3" height="37.8" fill="#ff2010"/>
<rect x="438" y="188.7" width="6" height="37.8" fill="#bebebe"/>
<rect x="443.9" y="188.7" width="3.1" height="37.8" fill="#ff2010"/>
<rect x="446.9" y="188.7" width="3" height="37.8" fill="#80ffe8"/>
<rect x="449.7" y="188.7" width="14.8" height="37.8" fill="#40ff00"/>
<rect x="464.3" y="188.7" width="14.7" height="37.8" fill="#ff2010"/>
<rect x="478.9" y="188.7" width="3.3" height="37.8" fill="#bebebe"/>
<rect x="482" y="188.7" width="2.8" height="37.8" fill="#a52a2a"/>
<rect x="484.7" y="188.7" width="3.5" height="37.8" fill="#f2f23c"/>
<rect x="488" y="188.7" width="3.3" height="37.8" fill="#80ffe8"/>
<rect x="491.2" y="188.7" width="38" height="37.8" fill="#f2f23c"/>
<rect x="529" y="188.7" width="13.9" height="37.8" fill="#000000"/>
<rect x="542.7" y="188.7" width="2.9" height="37.8" fill="#bebebe"/>
<rect x="545.5" y="188.7" width="56.5" height="37.8" fill="#7ffde0"/>
<rect x="601.9" y="188.7" width="38" height="37.8" fill="#a52a2a"/>
<rect x="639.8" y="188.7" width="12.1" height="37.8" fill="#bebebe"/>
<rect x="651.7" y="188.7" width="3.1" height="37.8" fill="#a52a2a"/>
<rect x="654.7" y="188.7" width="3.4" height="37.8" fill="#33ff00"/>
<rect x="658" y="188.7" width="2.4" height="37.8" fill="#c8c8c8"/>
<rect x="660.3" y="188.7" width="3.3" height="37.8" fill="#33ff00"/>
<rect x="663.4" y="188.7" width="3.5" height="37.8" fill="#80ffe8"/>
<rect x="666.7" y="188.7" width="2.2" height="37.8" fill="#bebebe"/>
<rect x="668.8" y="188.7" width="3.6" height="37.8" fill="#33ff00"/>
<rect x="672.2" y="188.7" width="11.8" height="37.8" fill="#bebebe"/>
<path d="M361.7 188.6H683.9M361.7 226.5H683.9" stroke="#777" stroke-width="0.8"/>
</g>
<g id="pc">
<g font-family="Liberation Sans, sans-serif" font-size="10.3" fill="#222">
<text x="74.8" y="271.8">DEGs</text><text x="185" y="272.3">WGCNA</text>
</g>
<ellipse cx="110" cy="338.9" rx="63.8" ry="60.7" fill="#d5c8e1" stroke="#2a2a2a" stroke-width="0.8"/>
<ellipse cx="194.8" cy="338.7" rx="63.5" ry="60.7" fill="#79b7b7" stroke="#2a2a2a" stroke-width="0.8"/>
<ellipse cx="110" cy="338.9" rx="63.8" ry="60.7" fill="none" stroke="#2a2a2a" stroke-width="0.8"/>
<g font-family="Liberation Sans, sans-serif" font-size="14.4" fill="#111">
<text x="93.4" y="337.5">29</text><text x="144.1" y="337.5">83</text><text x="187.3" y="337.5">1514</text>
</g>
</g>
<g id="pd">
<path d="M217.1 534.2L64.9 534.2M215.8 521.3L66.2 547.1M212.0 508.9L70.0 559.5M205.7 497.3L76.3 571.1M197.2 487.0L84.8 581.4M186.9 478.3L95.1 590.1M174.9 471.5L107.1 596.9M161.8 466.9L120.2 601.5M148.0 464.5L134.0 603.9M134.0 464.5L148.0 603.9M120.2 466.9L161.8 601.5M107.1 471.5L174.9 596.9M95.1 478.3L186.9 590.1M84.8 487.0L197.2 581.4M76.3 497.3L205.7 571.1M70.0 508.9L212.0 559.5M66.2 521.3L215.8 547.1M217.1 534.2L66.2 521.3M134.0 464.5L134.0 603.9M107.1 471.5L161.8 601.5M84.8 487.0L186.9 590.1M70.0 508.9L205.7 571.1M64.9 534.2L215.8 547.1M70.0 559.5L215.8 521.3M84.8 581.4L205.7 497.3M107.1 596.9L186.9 478.3M161.8 601.5L134.0 464.5M186.9 590.1L107.1 471.5M205.7 571.1L84.8 487.0M215.8 521.3L70.0 559.5M95.1 478.3L197.2 581.4M66.2 521.3L217.1 534.2M95.1 590.1L174.9 471.5M174.9 596.9L95.1 478.3M148.0 464.5Q161.2 488.9 186.9 478.3M212.0 508.9Q194.8 529.9 215.8 547.1M212.0 508.9Q189.2 534.2 212.0 559.5M197.2 487.0Q182.9 527.7 212.0 559.5M84.8 581.4Q119.5 570.5 134.0 603.9" stroke="#f5c0d9" stroke-width="0.55" fill="none"/>
<path d="M161.8 466.9Q166.0 475.8 174.9 471.5M161.8 466.9Q169.2 483.9 186.9 478.3M174.9 471.5Q177.5 480.9 186.9 478.3M161.8 466.9Q169.2 508.9 212.0 508.9M174.9 471.5Q177.7 505.8 212.0 508.9M186.9 478.3Q185.7 504.9 212.0 508.9M76.3 497.3Q144.1 529.1 148.0 603.9M212.0 508.9Q140.6 530.2 161.8 601.5M161.8 466.9Q138.0 545.0 134.0 603.9M174.9 471.5Q140.0 548.0 134.0 603.9M186.9 478.3Q141.0 550.0 134.0 603.9M205.7 497.3Q146.0 548.0 134.0 603.9M212.0 508.9Q148.0 552.0 134.0 603.9" stroke="#ee3cb9" stroke-width="1.0" fill="none"/>
<circle cx="217.1" cy="534.2" r="1.8" fill="#e7f4dd" stroke="#3a3a3a" stroke-width="0.75"/>
<circle cx="215.8" cy="521.3" r="1.8" fill="#e7f4dd" stroke="#3a3a3a" stroke-width="0.75"/>
<circle cx="212.0" cy="508.9" r="4.7" fill="#71c5a5" stroke="#3a3a3a" stroke-width="0.75"/>
<circle cx="205.7" cy="497.3" r="1.9" fill="#e7f4dd" stroke="#3a3a3a" stroke-width="0.75"/>
<circle cx="197.2" cy="487.0" r="4.0" fill="#e7f4dd" stroke="#3a3a3a" stroke-width="0.75"/>
<circle cx="186.9" cy="478.3" r="5.0" fill="#71c5a5" stroke="#3a3a3a" stroke-width="0.75"/>
<circle cx="174.9" cy="471.5" r="4.0" fill="#e7f4dd" stroke="#3a3a3a" stroke-width="0.75"/>
<circle cx="161.8" cy="466.9" r="4.6" fill="#71c5a5" stroke="#3a3a3a" stroke-width="0.75"/>
<circle cx="148.0" cy="464.5" r="3.1" fill="#e7f4dd" stroke="#3a3a3a" stroke-width="0.75"/>
<circle cx="134.0" cy="464.5" r="1.6" fill="#e7f4dd" stroke="#3a3a3a" stroke-width="0.75"/>
<circle cx="120.2" cy="466.9" r="1.8" fill="#e7f4dd" stroke="#3a3a3a" stroke-width="0.75"/>
<circle cx="107.1" cy="471.5" r="1.8" fill="#e7f4dd" stroke="#3a3a3a" stroke-width="0.75"/>
<circle cx="95.1" cy="478.3" r="1.9" fill="#e7f4dd" stroke="#3a3a3a" stroke-width="0.75"/>
<circle cx="84.8" cy="487.0" r="1.7" fill="#e7f4dd" stroke="#3a3a3a" stroke-width="0.75"/>
<circle cx="76.3" cy="497.3" r="3.1" fill="#e7f4dd" stroke="#3a3a3a" stroke-width="0.75"/>
<circle cx="70.0" cy="508.9" r="3.6" fill="#e7f4dd" stroke="#3a3a3a" stroke-width="0.75"/>
<circle cx="66.2" cy="521.3" r="1.7" fill="#e7f4dd" stroke="#3a3a3a" stroke-width="0.75"/>
<circle cx="64.9" cy="534.2" r="1.6" fill="#e7f4dd" stroke="#3a3a3a" stroke-width="0.75"/>
<circle cx="66.2" cy="547.1" r="1.8" fill="#e7f4dd" stroke="#3a3a3a" stroke-width="0.75"/>
<circle cx="70.0" cy="559.5" r="3.1" fill="#e7f4dd" stroke="#3a3a3a" stroke-width="0.75"/>
<circle cx="76.3" cy="571.1" r="1.8" fill="#e7f4dd" stroke="#3a3a3a" stroke-width="0.75"/>
<circle cx="84.8" cy="581.4" r="3.1" fill="#e7f4dd" stroke="#3a3a3a" stroke-width="0.75"/>
<circle cx="95.1" cy="590.1" r="3.1" fill="#e7f4dd" stroke="#3a3a3a" stroke-width="0.75"/>
<circle cx="107.1" cy="596.9" r="3.0" fill="#e7f4dd" stroke="#3a3a3a" stroke-width="0.75"/>
<circle cx="120.2" cy="601.5" r="3.0" fill="#e7f4dd" stroke="#3a3a3a" stroke-width="0.75"/>
<circle cx="134.0" cy="603.9" r="4.3" fill="#71c5a5" stroke="#3a3a3a" stroke-width="0.75"/>
<circle cx="148.0" cy="603.9" r="3.0" fill="#e7f4dd" stroke="#3a3a3a" stroke-width="0.75"/>
<circle cx="161.8" cy="601.5" r="4.1" fill="#e7f4dd" stroke="#3a3a3a" stroke-width="0.75"/>
<circle cx="174.9" cy="596.9" r="3.1" fill="#e7f4dd" stroke="#3a3a3a" stroke-width="0.75"/>
<circle cx="186.9" cy="590.1" r="1.8" fill="#e7f4dd" stroke="#3a3a3a" stroke-width="0.75"/>
<circle cx="197.2" cy="581.4" r="3.1" fill="#e7f4dd" stroke="#3a3a3a" stroke-width="0.75"/>
<circle cx="205.7" cy="571.1" r="1.8" fill="#e7f4dd" stroke="#3a3a3a" stroke-width="0.75"/>
<circle cx="212.0" cy="559.5" r="3.9" fill="#e7f4dd" stroke="#3a3a3a" stroke-width="0.75"/>
<circle cx="215.8" cy="547.1" r="3.3" fill="#e7f4dd" stroke="#3a3a3a" stroke-width="0.75"/>
<g font-family="Liberation Sans, sans-serif" font-size="6.6" fill="#222">
<text transform="translate(223.7,534.2) rotate(0.0)">DOK2</text>
<text transform="translate(222.3,520.1) rotate(-10.6)">DAG1</text>
<text transform="translate(218.1,506.5) rotate(-21.2)">CETP</text>
<text transform="translate(211.3,493.9) rotate(-31.8)">CD40LG</text>
<text transform="translate(202.1,482.6) rotate(-42.4)">ASPN</text>
<text transform="translate(190.8,473.1) rotate(-52.9)">APOH</text>
<text transform="translate(177.9,465.6) rotate(-63.5)">APOF</text>
<text transform="translate(163.6,460.5) rotate(-74.1)">APOA4</text>
<text transform="translate(148.6,457.9) rotate(-84.7)">ANXA1</text>
<text transform="translate(133.4,458.7) rotate(84.7)" text-anchor="end">SERPINB2</text>
<text transform="translate(118.6,461.3) rotate(74.1)" text-anchor="end">LCN2</text>
<text transform="translate(104.5,466.3) rotate(63.5)" text-anchor="end">SHBG</text>
<text transform="translate(91.6,473.7) rotate(52.9)" text-anchor="end">MANF</text>
<text transform="translate(80.5,483.1) rotate(42.4)" text-anchor="end">UGDH</text>
<text transform="translate(71.4,494.3) rotate(31.8)" text-anchor="end">SAE1</text>
<text transform="translate(64.6,506.8) rotate(21.2)" text-anchor="end">PARK7</text>
<text transform="translate(60.5,520.3) rotate(10.6)" text-anchor="end">GGCT</text>
<text transform="translate(59.1,534.2) rotate(0.0)" text-anchor="end">TEK</text>
<text transform="translate(60.5,548.1) rotate(-10.6)" text-anchor="end">SFRP4</text>
<text transform="translate(64.6,561.6) rotate(-21.2)" text-anchor="end">PRELP</text>
<text transform="translate(71.4,574.1) rotate(-31.8)" text-anchor="end">LOXL1</text>
<text transform="translate(80.5,585.3) rotate(-42.4)" text-anchor="end">SERPINF1</text>
<text transform="translate(91.6,594.7) rotate(-52.9)" text-anchor="end">SPP2</text>
<text transform="translate(104.5,602.1) rotate(-63.5)" text-anchor="end">CFB</text>
<text transform="translate(118.6,607.1) rotate(-74.1)" text-anchor="end">GPC1</text>
<text transform="translate(133.4,609.7) rotate(-84.7)" text-anchor="end">PLTP</text>
<text transform="translate(148.6,610.5) rotate(-275.3)">NEDD8</text>
<text transform="translate(163.6,607.9) rotate(-285.9)">IL4</text>
<text transform="translate(177.9,602.8) rotate(-296.5)">IGFBP2</text>
<text transform="translate(190.8,595.3) rotate(-307.1)">HYOU1</text>
<text transform="translate(202.1,585.8) rotate(-317.6)">GGH</text>
<text transform="translate(211.3,574.5) rotate(-328.2)">FKBP3</text>
<text transform="translate(218.1,561.9) rotate(-338.8)">FETUB</text>
<text transform="translate(222.3,548.3) rotate(-349.4)">ECM2</text>
</g>
<g font-family="Liberation Sans, sans-serif" font-size="7.8" fill="#222">
<text x="256.6" y="495">Degree</text>
<text x="255.8" y="545.3">Interaction</text>
</g>
<circle cx="265.9" cy="508.2" r="1.3" fill="#71c5a5" stroke="#333" stroke-width="0.5"/>
<circle cx="265.9" cy="520.3" r="1.3" fill="#e7f4dd" stroke="#333" stroke-width="0.5"/>
<path d="M260.8 557H271" stroke="#ee3cb9" stroke-width="1.1"/><path d="M260.8 569.5H271" stroke="#f4b4d2" stroke-width="1.1"/>
<g font-family="Liberation Sans, sans-serif" font-size="7.6" fill="#222">
<text x="273.2" y="510.3">High</text><text x="273.6" y="522.7">Low</text>
<text x="274.1" y="557.6">Strong</text><text x="274.6" y="570.3">Weak</text>
</g>
<text x="89.2" y="644.6" font-family="Liberation Sans, sans-serif" font-style="italic" font-size="8.05" fill="#222">Strong interaction: combined score &gt; 0.8</text>
</g>
<g id="pe">
<rect x="365.3" y="307.9" width="91.1" height="114.4" fill="#fff"/>
<path d="M379.9 307.9V422.3M404 307.9V422.3M428.3 307.9V422.3M365.3 314.4H443M365.3 325.6H443M365.3 336.8H443M365.3 348H443M365.3 359.2H443M365.3 370.4H443M365.3 381.6H443M365.3 392.8H443M365.3 404H443M365.3 415.2H443" stroke="#ececec" stroke-width="0.6" fill="none"/>
<circle cx="428.3" cy="314.4" r="3.5" fill="#9cc8df"/>
<circle cx="428.3" cy="325.6" r="3.5" fill="#94c3dd"/>
<circle cx="428.3" cy="336.8" r="3.5" fill="#7db3d5"/>
<circle cx="428.3" cy="348" r="3.5" fill="#7db3d5"/>
<circle cx="404" cy="359.2" r="2.1" fill="#d3efcb"/>
<circle cx="404" cy="370.4" r="3.0" fill="#c6e9bf"/>
<circle cx="404" cy="381.6" r="3.7" fill="#a5d69e"/>
<circle cx="379.9" cy="392.8" r="2.1" fill="#dcc2e2"/>
<circle cx="379.9" cy="404" r="2.1" fill="#dcc2e2"/>
<circle cx="379.9" cy="415.2" r="2.5" fill="#d9bade"/>
<rect x="365.3" y="307.9" width="77.7" height="114.4" fill="none" stroke="#555" stroke-width="1.1"/>
<rect x="443" y="307.9" width="13.4" height="114.4" fill="none" stroke="#555" stroke-width="1.1"/>
<text transform="translate(448,365.1) rotate(90)" text-anchor="middle" font-family="Liberation Sans, sans-serif" font-weight="bold" font-size="7.4" fill="#111">BP</text>
<path d="M456.4 314.4H458.2M456.4 325.6H458.2M456.4 336.8H458.2M456.4 348H458.2M456.4 359.2H458.2M456.4 370.4H458.2M456.4 381.6H458.2M456.4 392.8H458.2M456.4 404H458.2M456.4 415.2H458.2" stroke="#333" stroke-width="0.6"/>
<g font-family="Liberation Sans, sans-serif" font-size="7.4" fill="#222">
<text x="460" y="314.2">aldehyde metabolic process</text>
<text x="460" y="325.4">fatty acid omega-oxidation</text>
<text x="460" y="336.6">ethanol metabolic process</text>
<text x="460" y="347.8">alcohol catabolic process</text>
<text x="460" y="359">blood coagulation, intrinsic pathway</text>
<text x="460" y="370.2">immune response</text>
<text x="460" y="381.4">adaptive immune response</text>
<text x="460" y="392.6">lipid transport</text>
<text x="460" y="403.8">triglyceride metabolic process</text>
<text x="460" y="415">lipid metabolic process</text>
</g>
<rect x="365.5" y="426.6" width="90.9" height="113.7" fill="#fff"/>
<path d="M379.9 426.6V540.3M404 426.6V540.3M428.3 426.6V540.3M365.5 433H443M365.5 444.2H443M365.5 455.4H443M365.5 466.6H443M365.5 477.8H443M365.5 489H443M365.5 500.2H443M365.5 511.4H443M365.5 522.6H443M365.5 533.8H443" stroke="#ececec" stroke-width="0.6" fill="none"/>
<circle cx="404" cy="433" r="2.8" fill="#d4f0cc"/>
<circle cx="404" cy="444.2" r="3.0" fill="#cdedc5"/>
<circle cx="404" cy="455.4" r="4.2" fill="#d8f2d0"/>
<circle cx="379.9" cy="466.6" r="1.6" fill="#dcc2e2"/>
<circle cx="404" cy="466.6" r="2.3" fill="#d4f0cc"/>
<circle cx="379.9" cy="477.8" r="2.8" fill="#d8b9de"/>
<circle cx="404" cy="477.8" r="3.0" fill="#c3e7bb"/>
<circle cx="379.9" cy="489" r="2.5" fill="#d8bde0"/>
<circle cx="404" cy="489" r="3.7" fill="#6aa870"/>
<circle cx="379.9" cy="500.2" r="3.5" fill="#d98cb5"/>
<circle cx="404" cy="500.2" r="3.3" fill="#a9d9a2"/>
<circle cx="379.9" cy="511.4" r="4.2" fill="#dc96be"/>
<circle cx="404" cy="511.4" r="4.0" fill="#b8e2b1"/>
<circle cx="379.9" cy="522.6" r="4.3" fill="#d87ca7"/>
<circle cx="404" cy="522.6" r="4.3" fill="#88bd88"/>
<circle cx="379.9" cy="533.8" r="4.5" fill="#d53875"/>
<circle cx="404" cy="533.8" r="5.0" fill="#3e8e4e"/>
<rect x="365.5" y="426.6" width="77.5" height="113.7" fill="none" stroke="#555" stroke-width="1.1"/>
<rect x="443" y="426.6" width="13.4" height="113.7" fill="none" stroke="#555" stroke-width="1.1"/>
<text transform="translate(448,483.4) rotate(90)" text-anchor="middle" font-family="Liberation Sans, sans-serif" font-weight="bold" font-size="7.4" fill="#111">CC</text>
<path d="M456.4 433H458.2M456.4 444.2H458.2M456.4 455.4H458.2M456.4 466.6H458.2M456.4 477.8H458.2M456.4 489H458.2M456.4 500.2H458.2M456.4 511.4H458.2M456.4 522.6H458.2M456.4 533.8H458.2" stroke="#333" stroke-width="0.6"/>
<g font-family="Liberation Sans, sans-serif" font-size="7.4" fill="#222">
<text x="460" y="432.8">blood microparticle</text>
<text x="460" y="444">extracellular matrix</text>
<text x="460" y="455.2">plasma membrane</text>
<text x="460" y="466.4">platelet dense granule lumen</text>
<text x="460" y="477.6">endoplasmic reticulum lumen</text>
<text x="460" y="488.8">immunoglobulin complex</text>
<text x="460" y="500">collagen-containing extracellular matri</text>
<text x="460" y="511.2">extracellular exosome</text>
<text x="460" y="522.4">extracellular space</text>
<text x="460" y="533.6">extracellular region</text>
</g>
<rect x="366.2" y="544.5" width="90.2" height="80" fill="#fff"/>
<path d="M379.9 544.5V624.5M404 544.5V624.5M428.3 544.5V624.5M366.2 551.1H443M366.2 562.3H443M366.2 573.5H443M366.2 584.7H443M366.2 595.9H443M366.2 607.1H443M366.2 618.3H443" stroke="#ececec" stroke-width="0.6" fill="none"/>
<circle cx="428.3" cy="551.1" r="3.4" fill="#9ccae2"/>
<circle cx="428.3" cy="562.3" r="3.8" fill="#5fa2ca"/>
<circle cx="404" cy="573.5" r="2.8" fill="#c8ecc0"/>
<circle cx="428.3" cy="573.5" r="3.4" fill="#b5d9ea"/>
<circle cx="379.9" cy="584.7" r="2.4" fill="#dcc0e1"/>
<circle cx="404" cy="584.7" r="2.8" fill="#c8ecc0"/>
<circle cx="379.9" cy="595.9" r="2.4" fill="#dcc0e1"/>
<circle cx="379.9" cy="607.1" r="2.4" fill="#dcc0e1"/>
<circle cx="404" cy="607.1" r="2.6" fill="#d8f2d0"/>
<circle cx="379.9" cy="618.3" r="2.6" fill="#dcc0e1"/>
<rect x="366.2" y="544.5" width="76.8" height="80" fill="none" stroke="#555" stroke-width="1.1"/>
<rect x="443" y="544.5" width="13.4" height="80" fill="none" stroke="#555" stroke-width="1.1"/>
<text transform="translate(448,584.5) rotate(90)" text-anchor="middle" font-family="Liberation Sans, sans-serif" font-weight="bold" font-size="7.4" fill="#111">MF</text>
<path d="M456.4 551.1H458.2M456.4 562.3H458.2M456.4 573.5H458.2M456.4 584.7H458.2M456.4 595.9H458.2M456.4 607.1H458.2M456.4 618.3H458.2" stroke="#333" stroke-width="0.6"/>
<g font-family="Liberation Sans, sans-serif" font-size="7.4" fill="#222">
<text x="460" y="550.9">retinol binding</text>
<text x="460" y="562.1">NAD binding</text>
<text x="460" y="573.3">antigen binding</text>
<text x="460" y="584.5">copper ion binding</text>
<text x="460" y="595.7">lipid binding</text>
<text x="460" y="606.9">heparin binding</text>
<text x="460" y="618.1">signaling receptor binding</text>
</g>
<g font-family="Liberation Sans, sans-serif" fill="#222">
<text x="580.1" y="317.2" font-size="7.35">Gene Ratio</text>
</g>
<circle cx="596.8" cy="326.2" r="3.2" fill="#000"/>
<text x="604.2" y="328.3" font-family="Liberation Sans, sans-serif" font-size="6.5" fill="#222">20</text>
<circle cx="596.8" cy="335.6" r="4.0" fill="#000"/>
<text x="604.2" y="337.7" font-family="Liberation Sans, sans-serif" font-size="6.5" fill="#222">40</text>
<circle cx="596.8" cy="346.7" r="4.6" fill="#000"/>
<text x="604.2" y="348.8" font-family="Liberation Sans, sans-serif" font-size="6.5" fill="#222">60</text>
<defs><linearGradient id="gp" x1="0" y1="0" x2="0" y2="1"><stop offset="0" stop-color="#d4336e"/><stop offset="1" stop-color="#dcc0e2"/></linearGradient><linearGradient id="gg" x1="0" y1="0" x2="0" y2="1"><stop offset="0" stop-color="#3a8a48"/><stop offset="1" stop-color="#cff0c8"/></linearGradient><linearGradient id="gb" x1="0" y1="0" x2="0" y2="1"><stop offset="0" stop-color="#4a8fc0"/><stop offset="1" stop-color="#b6dcea"/></linearGradient></defs>
<text x="581.1" y="382.7" font-family="Liberation Sans, sans-serif" font-size="7.55" fill="#222">-log10(P.adj.fdr)</text>
<text x="587.7" y="394.8" font-family="Liberation Sans, sans-serif" font-size="7.4" fill="#222">Early EW vs Extended EW</text>
<rect x="587.1" y="398.7" width="9.1" height="43.1" fill="url(#gp)"/>
<path d="M587.1 400.5h1.6M594.6 400.5h1.6M587.1 411.6h1.6M594.6 411.6h1.6M587.1 422.2h1.6M594.6 422.2h1.6M587.1 432.9h1.6M594.6 432.9h1.6" stroke="#fff" stroke-width="0.6"/>
<text x="599.8" y="402.8" font-family="Liberation Sans, sans-serif" font-size="6.5" fill="#222">16</text>
<text x="599.8" y="413.9" font-family="Liberation Sans, sans-serif" font-size="6.5" fill="#222">12</text>
<text x="599.8" y="424.5" font-family="Liberation Sans, sans-serif" font-size="6.5" fill="#222">8</text>
<text x="599.8" y="435.2" font-family="Liberation Sans, sans-serif" font-size="6.5" fill="#222">4</text>
<text x="581.1" y="471.5" font-family="Liberation Sans, sans-serif" font-size="7.55" fill="#222">-log10(P.adj.fdr)</text>
<text x="589.1" y="480.6" font-family="Liberation Sans, sans-serif" font-size="7.4" fill="#222">Late EW vs Extended EW</text>
<rect x="587.1" y="487.1" width="9.1" height="42.7" fill="url(#gg)"/>
<path d="M587.1 486.7h1.6M594.6 486.7h1.6M587.1 502.4h1.6M594.6 502.4h1.6M587.1 517.7h1.6M594.6 517.7h1.6" stroke="#fff" stroke-width="0.6"/>
<text x="599.8" y="489" font-family="Liberation Sans, sans-serif" font-size="6.5" fill="#222">15</text>
<text x="599.8" y="504.7" font-family="Liberation Sans, sans-serif" font-size="6.5" fill="#222">10</text>
<text x="599.8" y="520" font-family="Liberation Sans, sans-serif" font-size="6.5" fill="#222">5</text>
<text x="581.1" y="558.9" font-family="Liberation Sans, sans-serif" font-size="7.55" fill="#222">-log10(P.adj.fdr)</text>
<text x="587.7" y="568.6" font-family="Liberation Sans, sans-serif" font-size="7.4" fill="#222">Early EW vs Late EW</text>
<rect x="587.1" y="575.1" width="9.1" height="42.7" fill="url(#gb)"/>
<path d="M587.1 577.5h1.6M594.6 577.5h1.6M587.1 592.2h1.6M594.6 592.2h1.6M587.1 606.7h1.6M594.6 606.7h1.6" stroke="#fff" stroke-width="0.6"/>
<text x="599.8" y="579.8" font-family="Liberation Sans, sans-serif" font-size="6.5" fill="#222">4</text>
<text x="599.8" y="594.5" font-family="Liberation Sans, sans-serif" font-size="6.5" fill="#222">3</text>
<text x="599.8" y="609" font-family="Liberation Sans, sans-serif" font-size="6.5" fill="#222">2</text>
</g>
</svg></body></html>
